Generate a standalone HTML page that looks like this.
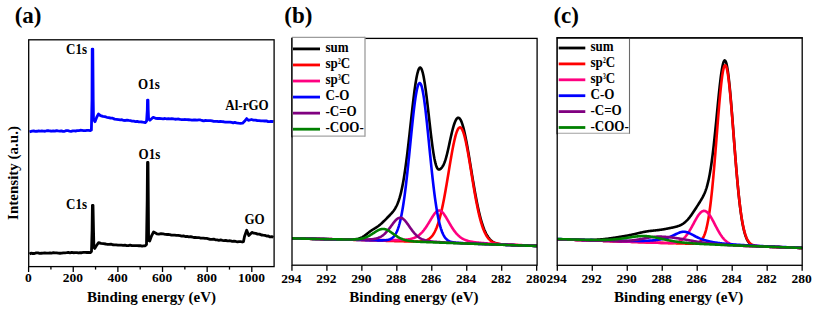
<!DOCTYPE html><html><head><meta charset="utf-8"><style>
html,body{margin:0;padding:0;background:#fff;width:818px;height:318px;overflow:hidden}
svg{display:block}
text{font-family:'Liberation Serif',serif;font-weight:bold;fill:#000}
</style></head><body>
<svg width="818" height="318" viewBox="0 0 818 318">

<polyline points="29.50,131.80 32.00,131.10 33.64,130.83 35.27,131.33 36.91,131.26 38.55,130.89 40.18,131.05 41.82,131.01 43.45,131.14 45.09,131.23 46.73,130.73 48.36,130.68 50.00,131.00 51.62,131.24 53.25,130.95 54.88,131.18 56.50,130.65 58.12,130.96 59.75,131.16 61.38,130.81 63.00,131.31 64.62,131.28 66.25,130.67 67.88,130.67 69.50,131.03 71.12,131.31 72.75,130.92 74.38,130.80 76.00,131.00 77.00,130.60 78.66,130.55 80.33,130.27 81.99,130.41 83.65,130.56 85.31,130.60 86.97,130.41 88.64,130.41 90.30,130.60 91.40,130.00 92.00,100.00 92.20,49.10 92.80,49.10 93.20,100.00 93.50,119.50 95.00,121.70 96.80,117.00 98.50,114.00 100.50,115.60 102.90,116.40 104.85,116.65 106.80,117.27 108.75,117.60 110.70,118.20 112.67,118.22 114.65,119.14 116.62,119.29 118.60,119.60 120.29,119.86 121.97,119.69 123.66,120.42 125.34,120.48 127.03,120.12 128.71,120.43 130.40,120.70 132.09,121.04 133.77,121.22 135.46,121.56 137.14,121.39 138.83,121.86 140.51,121.93 142.20,122.00 145.30,122.60 146.60,121.00 147.30,110.00 147.50,100.10 148.00,100.10 148.20,110.00 148.60,119.00 149.90,120.30 153.20,117.30 155.50,118.30 157.60,118.50 159.45,118.36 161.30,118.56 163.15,118.77 165.00,118.50 166.69,118.83 168.38,118.69 170.08,118.84 171.77,118.54 173.46,118.78 175.15,119.26 176.85,119.09 178.54,119.01 180.23,119.36 181.92,119.57 183.62,119.64 185.31,119.52 187.00,119.70 188.67,119.73 190.35,119.85 192.02,120.11 193.69,120.01 195.36,119.99 197.04,120.13 198.71,119.88 200.38,119.96 202.05,120.50 203.73,120.77 205.40,120.50 207.06,120.68 208.72,120.65 210.38,120.60 212.04,120.94 213.70,121.39 215.36,121.35 217.02,121.30 218.68,121.63 220.34,121.30 222.00,121.60 223.60,121.74 225.20,122.18 226.80,122.05 228.40,122.10 230.00,122.11 231.60,122.43 233.20,122.85 234.80,122.32 236.40,122.80 238.47,123.13 240.53,123.29 242.60,123.20 244.50,121.30 246.70,118.60 248.40,120.40 251.50,119.50 253.40,120.03 255.30,120.19 257.20,120.50 259.10,120.55 261.00,120.80 262.79,120.97 264.57,121.01 266.36,120.88 268.14,121.57 269.93,121.49 271.71,121.36 273.50,121.70" fill="none" stroke="#0000ff" stroke-width="2.8" stroke-linejoin="round"/>
<polyline points="29.50,254.00 31.00,253.20 32.73,253.50 34.45,253.48 36.18,252.84 37.91,252.84 39.64,253.34 41.36,253.26 43.09,253.19 44.82,252.92 46.55,253.11 48.27,253.09 50.00,253.00 51.67,253.04 53.33,252.73 55.00,252.90 56.67,252.86 58.33,253.07 60.00,253.25 61.67,253.20 63.33,252.90 65.00,252.81 66.67,252.67 68.33,252.49 70.00,252.80 71.69,252.45 73.38,252.74 75.08,252.62 76.77,252.65 78.46,252.99 80.15,252.72 81.84,252.73 83.53,252.48 85.22,252.32 86.92,252.51 88.61,252.36 90.30,252.60 91.50,251.50 92.10,230.00 92.40,205.40 93.00,205.40 93.50,230.00 93.90,247.50 94.70,248.50 96.50,245.50 98.60,242.60 101.00,243.40 103.35,243.71 105.70,244.00 107.44,244.47 109.19,244.37 110.93,244.14 112.68,244.76 114.42,244.82 116.17,244.90 117.91,245.14 119.66,245.16 121.40,245.10 123.16,245.37 124.91,245.13 126.67,245.64 128.42,245.69 130.18,245.20 131.93,245.68 133.69,245.72 135.44,245.61 137.20,245.70 138.80,245.74 140.40,245.73 142.00,246.06 143.60,245.78 145.20,245.80 146.50,244.50 147.20,200.00 147.50,162.40 148.00,162.40 148.30,200.00 148.60,240.50 149.70,241.00 151.50,236.00 153.60,231.90 156.80,233.80 158.90,234.03 161.00,233.70 163.10,233.80 164.76,234.27 166.43,234.48 168.09,234.37 169.75,234.65 171.41,235.09 173.07,235.16 174.74,235.19 176.40,235.40 178.16,235.38 179.91,235.63 181.67,236.07 183.42,235.88 185.18,236.57 186.93,236.30 188.69,236.93 190.44,236.69 192.20,237.00 193.80,237.50 195.40,237.49 197.00,237.53 198.60,237.71 200.20,237.98 201.80,238.11 203.40,238.09 205.00,238.40 206.74,238.40 208.48,238.81 210.22,239.30 211.96,239.29 213.70,239.10 215.44,239.82 217.18,239.96 218.92,240.29 220.66,239.98 222.40,240.40 224.06,240.70 225.72,240.36 227.38,240.91 229.03,240.77 230.69,240.88 232.35,241.46 234.01,241.06 235.67,241.48 237.33,241.85 238.98,241.55 240.64,241.66 242.30,242.00 243.50,241.60 244.50,236.50 246.70,230.20 248.80,235.50 251.90,232.40 253.80,233.19 255.70,233.39 257.60,234.11 259.50,234.15 261.40,235.00 263.13,235.22 264.86,235.40 266.59,236.06 268.31,235.97 270.04,236.89 271.77,236.55 273.50,237.20" fill="none" stroke="#000" stroke-width="2.8" stroke-linejoin="round"/>
<rect x="28.7" y="39.8" width="245.40000000000003" height="226.8" fill="none" stroke="#000" stroke-width="1.3"/>
<line x1="28.60" y1="266.6" x2="28.60" y2="272.0" stroke="#000" stroke-width="1.3"/>
<text x="28.30" y="281.8" font-size="13.5" text-anchor="middle">0</text>
<line x1="50.92" y1="266.6" x2="50.92" y2="269.6" stroke="#000" stroke-width="1.3"/>
<line x1="73.24" y1="266.6" x2="73.24" y2="272.0" stroke="#000" stroke-width="1.3"/>
<text x="72.94" y="281.8" font-size="13.5" text-anchor="middle">200</text>
<line x1="95.56" y1="266.6" x2="95.56" y2="269.6" stroke="#000" stroke-width="1.3"/>
<line x1="117.88" y1="266.6" x2="117.88" y2="272.0" stroke="#000" stroke-width="1.3"/>
<text x="117.58" y="281.8" font-size="13.5" text-anchor="middle">400</text>
<line x1="140.20" y1="266.6" x2="140.20" y2="269.6" stroke="#000" stroke-width="1.3"/>
<line x1="162.52" y1="266.6" x2="162.52" y2="272.0" stroke="#000" stroke-width="1.3"/>
<text x="162.22" y="281.8" font-size="13.5" text-anchor="middle">600</text>
<line x1="184.84" y1="266.6" x2="184.84" y2="269.6" stroke="#000" stroke-width="1.3"/>
<line x1="207.16" y1="266.6" x2="207.16" y2="272.0" stroke="#000" stroke-width="1.3"/>
<text x="206.86" y="281.8" font-size="13.5" text-anchor="middle">800</text>
<line x1="229.48" y1="266.6" x2="229.48" y2="269.6" stroke="#000" stroke-width="1.3"/>
<line x1="251.80" y1="266.6" x2="251.80" y2="272.0" stroke="#000" stroke-width="1.3"/>
<text x="251.50" y="281.8" font-size="13.5" text-anchor="middle">1000</text>
<text x="151.5" y="302" font-size="15" text-anchor="middle">Binding energy (eV)</text>
<text transform="translate(18.1,173) rotate(-90)" font-size="15" text-anchor="middle">Intensity (a.u.)</text>
<text x="28.1" y="22.7" font-size="23" text-anchor="middle">(a)</text>
<text transform="translate(76.50,54.10) scale(1.0,1.05)" font-size="13" text-anchor="middle">C1s</text>
<text transform="translate(148.90,88.50) scale(1.0,1.05)" font-size="13" text-anchor="middle">O1s</text>
<text transform="translate(247.00,109.60) scale(1.0,1.05)" font-size="13" text-anchor="middle">Al-rGO</text>
<text transform="translate(76.50,208.60) scale(1.0,1.05)" font-size="13" text-anchor="middle">C1s</text>
<text transform="translate(149.40,158.70) scale(1.0,1.05)" font-size="13" text-anchor="middle">O1s</text>
<text transform="translate(254.60,223.50) scale(1.0,1.05)" font-size="13" text-anchor="middle">GO</text>
<polyline points="292.00,238.40 292.50,238.41 293.00,238.42 293.50,238.44 294.00,238.45 294.50,238.46 295.00,238.47 295.50,238.48 296.00,238.50 296.50,238.51 297.00,238.52 297.50,238.53 298.00,238.55 298.50,238.56 299.00,238.57 299.50,238.58 300.00,238.59 300.50,238.61 301.00,238.62 301.50,238.63 302.00,238.64 302.50,238.65 303.00,238.67 303.50,238.68 304.00,238.69 304.50,238.70 305.00,238.71 305.50,238.73 306.00,238.74 306.50,238.75 307.00,238.76 307.50,238.77 308.00,238.79 308.50,238.80 309.00,238.81 309.50,238.82 310.00,238.84 310.50,238.85 311.00,238.86 311.50,238.87 312.00,238.88 312.50,238.90 313.00,238.91 313.50,238.92 314.00,238.93 314.50,238.94 315.00,238.96 315.50,238.97 316.00,238.98 316.50,238.99 317.00,239.00 317.50,239.02 318.00,239.03 318.50,239.04 319.00,239.05 319.50,239.07 320.00,239.08 320.50,239.09 321.00,239.10 321.50,239.11 322.00,239.13 322.50,239.14 323.00,239.15 323.50,239.16 324.00,239.17 324.50,239.19 325.00,239.20 325.50,239.21 326.00,239.22 326.50,239.23 327.00,239.25 327.50,239.26 328.00,239.27 328.50,239.28 329.00,239.29 329.50,239.31 330.00,239.32 330.50,239.33 331.00,239.34 331.50,239.35 332.00,239.37 332.50,239.38 333.00,239.39 333.50,239.40 334.00,239.41 334.50,239.42 335.00,239.43 335.50,239.45 336.00,239.46 336.50,239.47 337.00,239.48 337.50,239.49 338.00,239.50 338.50,239.51 339.00,239.52 339.50,239.53 340.00,239.54 340.50,239.55 341.00,239.56 341.50,239.57 342.00,239.58 342.50,239.58 343.00,239.59 343.50,239.60 344.00,239.60 344.50,239.61 345.00,239.61 345.50,239.61 346.00,239.62 346.50,239.62 347.00,239.62 347.50,239.62 348.00,239.61 348.50,239.61 349.00,239.60 349.50,239.59 350.00,239.58 350.50,239.57 351.00,239.55 351.50,239.54 352.00,239.51 352.50,239.49 353.00,239.46 353.50,239.42 354.00,239.38 354.50,239.33 355.00,239.28 355.50,239.23 356.00,239.16 356.50,239.08 357.00,239.00 357.50,238.90 358.00,238.79 358.50,238.66 359.00,238.52 359.50,238.36 360.00,238.19 360.50,237.99 361.00,237.78 361.50,237.55 362.00,237.30 362.50,237.02 363.00,236.73 363.50,236.42 364.00,236.10 364.50,235.75 365.00,235.39 365.50,235.02 366.00,234.64 366.50,234.25 367.00,233.86 367.50,233.46 368.00,233.06 368.50,232.66 369.00,232.27 369.50,231.89 370.00,231.52 370.50,231.15 371.00,230.80 371.50,230.45 372.00,230.12 372.50,229.79 373.00,229.47 373.50,229.16 374.00,228.86 374.50,228.55 375.00,228.25 375.50,227.94 376.00,227.63 376.50,227.31 377.00,226.98 377.50,226.64 378.00,226.29 378.50,225.92 379.00,225.54 379.50,225.15 380.00,224.74 380.50,224.32 381.00,223.88 381.50,223.43 382.00,222.97 382.50,222.50 383.00,222.03 383.50,221.54 384.00,221.05 384.50,220.55 385.00,220.05 385.50,219.55 386.00,219.05 386.50,218.54 387.00,218.04 387.50,217.54 388.00,217.03 388.50,216.52 389.00,216.02 389.50,215.50 390.00,214.98 390.50,214.46 391.00,213.92 391.50,213.36 392.00,212.79 392.50,212.20 393.00,211.58 393.50,210.93 394.00,210.24 394.50,209.51 395.00,208.73 395.50,207.89 396.00,206.98 396.50,206.00 397.00,204.94 397.50,203.79 398.00,202.55 398.50,201.20 399.00,199.73 399.50,198.15 400.00,196.43 400.50,194.57 401.00,192.57 401.50,190.41 402.00,188.10 402.50,185.62 403.00,182.98 403.50,180.16 404.00,177.18 404.50,174.02 405.00,170.70 405.50,167.20 406.00,163.55 406.50,159.74 407.00,155.79 407.50,151.70 408.00,147.49 408.50,143.17 409.00,138.77 409.50,134.29 410.00,129.76 410.50,125.20 411.00,120.64 411.50,116.10 412.00,111.60 412.50,107.18 413.00,102.86 413.50,98.67 414.00,94.64 414.50,90.79 415.00,87.16 415.50,83.76 416.00,80.63 416.50,77.79 417.00,75.26 417.50,73.07 418.00,71.22 418.50,69.73 419.00,68.63 419.50,67.90 420.00,67.57 420.50,67.64 421.00,68.10 421.50,68.95 422.00,70.19 422.50,71.80 423.00,73.77 423.50,76.09 424.00,78.73 424.50,81.68 425.00,84.91 425.50,88.39 426.00,92.11 426.50,96.02 427.00,100.09 427.50,104.30 428.00,108.62 428.50,113.00 429.00,117.43 429.50,121.85 430.00,126.24 430.50,130.57 431.00,134.80 431.50,138.90 432.00,142.84 432.50,146.58 433.00,150.10 433.50,153.36 434.00,156.35 434.50,159.05 435.00,161.43 435.50,163.48 436.00,165.22 436.50,166.63 437.00,167.73 437.50,168.54 438.00,169.09 438.50,169.40 439.00,169.51 439.50,169.44 440.00,169.24 440.50,168.91 441.00,168.48 441.50,167.95 442.00,167.34 442.50,166.62 443.00,165.80 443.50,164.86 444.00,163.79 444.50,162.57 445.00,161.21 445.50,159.68 446.00,158.00 446.50,156.18 447.00,154.23 447.50,152.15 448.00,149.99 448.50,147.75 449.00,145.46 449.50,143.15 450.00,140.84 450.50,138.55 451.00,136.30 451.50,134.12 452.00,132.02 452.50,130.01 453.00,128.12 453.50,126.36 454.00,124.73 454.50,123.26 455.00,121.94 455.50,120.79 456.00,119.82 456.50,119.03 457.00,118.43 457.50,118.02 458.00,117.80 458.50,117.78 459.00,117.96 459.50,118.34 460.00,118.91 460.50,119.68 461.00,120.64 461.50,121.78 462.00,123.11 462.50,124.61 463.00,126.29 463.50,128.12 464.00,130.11 464.50,132.24 465.00,134.51 465.50,136.91 466.00,139.42 466.50,142.03 467.00,144.74 467.50,147.53 468.00,150.40 468.50,153.32 469.00,156.30 469.50,159.31 470.00,162.35 470.50,165.41 471.00,168.48 471.50,171.54 472.00,174.59 472.50,177.62 473.00,180.63 473.50,183.59 474.00,186.51 474.50,189.37 475.00,192.18 475.50,194.93 476.00,197.60 476.50,200.20 477.00,202.72 477.50,205.17 478.00,207.52 478.50,209.79 479.00,211.98 479.50,214.07 480.00,216.08 480.50,217.99 481.00,219.82 481.50,221.55 482.00,223.20 482.50,224.76 483.00,226.24 483.50,227.63 484.00,228.94 484.50,230.18 485.00,231.33 485.50,232.42 486.00,233.43 486.50,234.37 487.00,235.25 487.50,236.07 488.00,236.83 488.50,237.53 489.00,238.18 489.50,238.78 490.00,239.34 490.50,239.85 491.00,240.31 491.50,240.74 492.00,241.14 492.50,241.50 493.00,241.83 493.50,242.13 494.00,242.40 494.50,242.65 495.00,242.88 495.50,243.08 496.00,243.27 496.50,243.44 497.00,243.59 497.50,243.73 498.00,243.86 498.50,243.97 499.00,244.07 499.50,244.17 500.00,244.25 500.50,244.33 501.00,244.40 501.50,244.47 502.00,244.52 502.50,244.58 503.00,244.63 503.50,244.67 504.00,244.71 504.50,244.75 505.00,244.79 505.50,244.82 506.00,244.85 506.50,244.88 507.00,244.91 507.50,244.94 508.00,244.96 508.50,244.98 509.00,245.01 509.50,245.03 510.00,245.05 510.50,245.07 511.00,245.09 511.50,245.11 512.00,245.13 512.50,245.15 513.00,245.17 513.50,245.19 514.00,245.20 514.50,245.22 515.00,245.24 515.50,245.26 516.00,245.27 516.50,245.29 517.00,245.31 517.50,245.33 518.00,245.34 518.50,245.36 519.00,245.38 519.50,245.40 520.00,245.41 520.50,245.43 521.00,245.45 521.50,245.46 522.00,245.48 522.50,245.50 523.00,245.51 523.50,245.53 524.00,245.55 524.50,245.57 525.00,245.58 525.50,245.60 526.00,245.62 526.50,245.63 527.00,245.65 527.50,245.67 528.00,245.68 528.50,245.70 529.00,245.72 529.50,245.74 530.00,245.75 530.50,245.77 531.00,245.79 531.50,245.80 532.00,245.82 532.50,245.84 533.00,245.85 533.50,245.87 534.00,245.89 534.50,245.91 535.00,245.92 535.50,245.94 536.00,245.96 536.50,245.97 537.00,245.99" fill="none" stroke="#000" stroke-width="2.6" stroke-linejoin="round"/>
<polyline points="292.00,238.38 292.50,238.39 293.00,238.40 293.50,238.41 294.00,238.43 294.50,238.44 295.00,238.45 295.50,238.46 296.00,238.47 296.50,238.49 297.00,238.50 297.50,238.51 298.00,238.52 298.50,238.53 299.00,238.55 299.50,238.56 300.00,238.57 300.50,238.58 301.00,238.59 301.50,238.60 302.00,238.62 302.50,238.63 303.00,238.64 303.50,238.65 304.00,238.66 304.50,238.68 305.00,238.69 305.50,238.70 306.00,238.71 306.50,238.72 307.00,238.74 307.50,238.75 308.00,238.76 308.50,238.77 309.00,238.78 309.50,238.80 310.00,238.81 310.50,238.82 311.00,238.83 311.50,238.84 312.00,238.86 312.50,238.87 313.00,238.88 313.50,238.89 314.00,238.90 314.50,238.91 315.00,238.93 315.50,238.94 316.00,238.95 316.50,238.96 317.00,238.97 317.50,238.99 318.00,239.00 318.50,239.01 319.00,239.02 319.50,239.03 320.00,239.05 320.50,239.06 321.00,239.07 321.50,239.08 322.00,239.09 322.50,239.10 323.00,239.12 323.50,239.13 324.00,239.14 324.50,239.15 325.00,239.16 325.50,239.18 326.00,239.19 326.50,239.20 327.00,239.21 327.50,239.22 328.00,239.23 328.50,239.25 329.00,239.26 329.50,239.27 330.00,239.28 330.50,239.29 331.00,239.31 331.50,239.32 332.00,239.33 332.50,239.34 333.00,239.35 333.50,239.36 334.00,239.38 334.50,239.39 335.00,239.40 335.50,239.41 336.00,239.42 336.50,239.44 337.00,239.45 337.50,239.46 338.00,239.47 338.50,239.48 339.00,239.49 339.50,239.51 340.00,239.52 340.50,239.53 341.00,239.54 341.50,239.55 342.00,239.56 342.50,239.58 343.00,239.59 343.50,239.60 344.00,239.61 344.50,239.62 345.00,239.63 345.50,239.65 346.00,239.66 346.50,239.67 347.00,239.68 347.50,239.69 348.00,239.71 348.50,239.72 349.00,239.73 349.50,239.74 350.00,239.75 350.50,239.76 351.00,239.77 351.50,239.79 352.00,239.80 352.50,239.81 353.00,239.82 353.50,239.83 354.00,239.84 354.50,239.86 355.00,239.88 355.50,239.89 356.00,239.91 356.50,239.92 357.00,239.94 357.50,239.95 358.00,239.97 358.50,239.99 359.00,240.00 359.50,240.02 360.00,240.03 360.50,240.05 361.00,240.06 361.50,240.08 362.00,240.10 362.50,240.11 363.00,240.13 363.50,240.14 364.00,240.16 364.50,240.17 365.00,240.19 365.50,240.20 366.00,240.22 366.50,240.24 367.00,240.25 367.50,240.27 368.00,240.28 368.50,240.30 369.00,240.31 369.50,240.33 370.00,240.34 370.50,240.36 371.00,240.38 371.50,240.39 372.00,240.41 372.50,240.42 373.00,240.44 373.50,240.45 374.00,240.47 374.50,240.48 375.00,240.50 375.50,240.51 376.00,240.53 376.50,240.54 377.00,240.56 377.50,240.57 378.00,240.59 378.50,240.60 379.00,240.62 379.50,240.64 380.00,240.65 380.50,240.67 381.00,240.68 381.50,240.70 382.00,240.71 382.50,240.73 383.00,240.74 383.50,240.76 384.00,240.77 384.50,240.79 385.00,240.80 385.50,240.81 386.00,240.83 386.50,240.84 387.00,240.86 387.50,240.87 388.00,240.89 388.50,240.90 389.00,240.92 389.50,240.93 390.00,240.95 390.50,240.96 391.00,240.98 391.50,240.99 392.00,241.01 392.50,241.02 393.00,241.03 393.50,241.05 394.00,241.06 394.50,241.08 395.00,241.09 395.50,241.11 396.00,241.12 396.50,241.13 397.00,241.15 397.50,241.16 398.00,241.17 398.50,241.19 399.00,241.20 399.50,241.22 400.00,241.23 400.50,241.24 401.00,241.26 401.50,241.27 402.00,241.28 402.50,241.30 403.00,241.31 403.50,241.32 404.00,241.34 404.50,241.35 405.00,241.36 405.50,241.37 406.00,241.39 406.50,241.40 407.00,241.41 407.50,241.42 408.00,241.43 408.50,241.45 409.00,241.46 409.50,241.47 410.00,241.48 410.50,241.49 411.00,241.50 411.50,241.51 412.00,241.52 412.50,241.52 413.00,241.53 413.50,241.54 414.00,241.54 414.50,241.55 415.00,241.55 415.50,241.55 416.00,241.55 416.50,241.54 417.00,241.54 417.50,241.53 418.00,241.52 418.50,241.51 419.00,241.49 419.50,241.46 420.00,241.44 420.50,241.40 421.00,241.36 421.50,241.32 422.00,241.26 422.50,241.20 423.00,241.12 423.50,241.03 424.00,240.94 424.50,240.82 425.00,240.69 425.50,240.55 426.00,240.38 426.50,240.20 427.00,239.99 427.50,239.76 428.00,239.49 428.50,239.20 429.00,238.88 429.50,238.52 430.00,238.12 430.50,237.68 431.00,237.19 431.50,236.66 432.00,236.08 432.50,235.44 433.00,234.74 433.50,233.99 434.00,233.16 434.50,232.27 435.00,231.31 435.50,230.27 436.00,229.15 436.50,227.95 437.00,226.66 437.50,225.29 438.00,223.83 438.50,222.27 439.00,220.62 439.50,218.88 440.00,217.03 440.50,215.09 441.00,213.06 441.50,210.93 442.00,208.70 442.50,206.38 443.00,203.97 443.50,201.47 444.00,198.89 444.50,196.23 445.00,193.49 445.50,190.69 446.00,187.83 446.50,184.92 447.00,181.96 447.50,178.97 448.00,175.96 448.50,172.93 449.00,169.90 449.50,166.87 450.00,163.87 450.50,160.90 451.00,157.98 451.50,155.11 452.00,152.32 452.50,149.62 453.00,147.01 453.50,144.52 454.00,142.15 454.50,139.92 455.00,137.83 455.50,135.91 456.00,134.17 456.50,132.60 457.00,131.23 457.50,130.05 458.00,129.08 458.50,128.33 459.00,127.79 459.50,127.47 460.00,127.38 460.50,127.51 461.00,127.86 461.50,128.43 462.00,129.22 462.50,130.22 463.00,131.43 463.50,132.84 464.00,134.44 464.50,136.22 465.00,138.17 465.50,140.29 466.00,142.55 466.50,144.96 467.00,147.48 467.50,150.12 468.00,152.86 468.50,155.69 469.00,158.59 469.50,161.54 470.00,164.55 470.50,167.58 471.00,170.64 471.50,173.71 472.00,176.77 472.50,179.82 473.00,182.85 473.50,185.84 474.00,188.78 474.50,191.68 475.00,194.51 475.50,197.28 476.00,199.97 476.50,202.59 477.00,205.12 477.50,207.57 478.00,209.92 478.50,212.18 479.00,214.35 479.50,216.42 480.00,218.39 480.50,220.26 481.00,222.04 481.50,223.73 482.00,225.32 482.50,226.81 483.00,228.22 483.50,229.54 484.00,230.77 484.50,231.92 485.00,233.00 485.50,233.99 486.00,234.92 486.50,235.77 487.00,236.57 487.50,237.29 488.00,237.97 488.50,238.58 489.00,239.15 489.50,239.67 490.00,240.14 490.50,240.57 491.00,240.96 491.50,241.32 492.00,241.65 492.50,241.94 493.00,242.21 493.50,242.45 494.00,242.67 494.50,242.87 495.00,243.05 495.50,243.21 496.00,243.36 496.50,243.49 497.00,243.61 497.50,243.72 498.00,243.81 498.50,243.90 499.00,243.98 499.50,244.06 500.00,244.12 500.50,244.18 501.00,244.24 501.50,244.29 502.00,244.34 502.50,244.38 503.00,244.43 503.50,244.46 504.00,244.50 504.50,244.53 505.00,244.57 505.50,244.60 506.00,244.63 506.50,244.65 507.00,244.68 507.50,244.71 508.00,244.73 508.50,244.76 509.00,244.78 509.50,244.81 510.00,244.83 510.50,244.85 511.00,244.87 511.50,244.90 512.00,244.92 512.50,244.94 513.00,244.96 513.50,244.98 514.00,245.00 514.50,245.02 515.00,245.04 515.50,245.07 516.00,245.09 516.50,245.11 517.00,245.13 517.50,245.15 518.00,245.17 518.50,245.19 519.00,245.21 519.50,245.23 520.00,245.25 520.50,245.27 521.00,245.28 521.50,245.30 522.00,245.32 522.50,245.34 523.00,245.36 523.50,245.38 524.00,245.40 524.50,245.42 525.00,245.44 525.50,245.46 526.00,245.48 526.50,245.50 527.00,245.51 527.50,245.53 528.00,245.55 528.50,245.57 529.00,245.59 529.50,245.61 530.00,245.63 530.50,245.65 531.00,245.66 531.50,245.68 532.00,245.70 532.50,245.72 533.00,245.74 533.50,245.76 534.00,245.78 534.50,245.79 535.00,245.81 535.50,245.83 536.00,245.85 536.50,245.87 537.00,245.89" fill="none" stroke="#ff0000" stroke-width="2.6" stroke-linejoin="round"/>
<polyline points="292.00,238.30 292.50,238.31 293.00,238.32 293.50,238.33 294.00,238.34 294.50,238.35 295.00,238.36 295.50,238.38 296.00,238.39 296.50,238.40 297.00,238.41 297.50,238.42 298.00,238.43 298.50,238.44 299.00,238.46 299.50,238.47 300.00,238.48 300.50,238.49 301.00,238.50 301.50,238.51 302.00,238.52 302.50,238.53 303.00,238.55 303.50,238.56 304.00,238.57 304.50,238.58 305.00,238.59 305.50,238.60 306.00,238.61 306.50,238.62 307.00,238.63 307.50,238.65 308.00,238.66 308.50,238.67 309.00,238.68 309.50,238.69 310.00,238.70 310.50,238.71 311.00,238.72 311.50,238.73 312.00,238.75 312.50,238.76 313.00,238.77 313.50,238.78 314.00,238.79 314.50,238.80 315.00,238.81 315.50,238.82 316.00,238.83 316.50,238.84 317.00,238.85 317.50,238.87 318.00,238.88 318.50,238.89 319.00,238.90 319.50,238.91 320.00,238.92 320.50,238.93 321.00,238.94 321.50,238.95 322.00,238.96 322.50,238.97 323.00,238.98 323.50,238.99 324.00,239.01 324.50,239.02 325.00,239.03 325.50,239.04 326.00,239.05 326.50,239.06 327.00,239.07 327.50,239.08 328.00,239.09 328.50,239.10 329.00,239.11 329.50,239.12 330.00,239.13 330.50,239.14 331.00,239.15 331.50,239.16 332.00,239.17 332.50,239.18 333.00,239.19 333.50,239.20 334.00,239.21 334.50,239.22 335.00,239.23 335.50,239.24 336.00,239.26 336.50,239.27 337.00,239.28 337.50,239.29 338.00,239.30 338.50,239.31 339.00,239.32 339.50,239.32 340.00,239.33 340.50,239.34 341.00,239.35 341.50,239.36 342.00,239.37 342.50,239.38 343.00,239.39 343.50,239.40 344.00,239.41 344.50,239.42 345.00,239.43 345.50,239.44 346.00,239.45 346.50,239.46 347.00,239.47 347.50,239.48 348.00,239.49 348.50,239.50 349.00,239.51 349.50,239.52 350.00,239.52 350.50,239.53 351.00,239.54 351.50,239.55 352.00,239.56 352.50,239.57 353.00,239.58 353.50,239.59 354.00,239.59 354.50,239.61 355.00,239.62 355.50,239.63 356.00,239.65 356.50,239.66 357.00,239.67 357.50,239.68 358.00,239.69 358.50,239.71 359.00,239.72 359.50,239.73 360.00,239.74 360.50,239.76 361.00,239.77 361.50,239.78 362.00,239.79 362.50,239.80 363.00,239.81 363.50,239.82 364.00,239.84 364.50,239.85 365.00,239.86 365.50,239.87 366.00,239.88 366.50,239.89 367.00,239.90 367.50,239.91 368.00,239.92 368.50,239.93 369.00,239.94 369.50,239.95 370.00,239.96 370.50,239.97 371.00,239.98 371.50,239.99 372.00,240.00 372.50,240.01 373.00,240.02 373.50,240.03 374.00,240.04 374.50,240.05 375.00,240.05 375.50,240.06 376.00,240.07 376.50,240.08 377.00,240.09 377.50,240.09 378.00,240.10 378.50,240.11 379.00,240.12 379.50,240.12 380.00,240.13 380.50,240.13 381.00,240.14 381.50,240.15 382.00,240.15 382.50,240.16 383.00,240.16 383.50,240.17 384.00,240.17 384.50,240.17 385.00,240.18 385.50,240.18 386.00,240.18 386.50,240.19 387.00,240.19 387.50,240.19 388.00,240.19 388.50,240.19 389.00,240.19 389.50,240.19 390.00,240.19 390.50,240.19 391.00,240.19 391.50,240.19 392.00,240.19 392.50,240.18 393.00,240.18 393.50,240.18 394.00,240.17 394.50,240.17 395.00,240.16 395.50,240.15 396.00,240.14 396.50,240.13 397.00,240.12 397.50,240.11 398.00,240.10 398.50,240.09 399.00,240.07 399.50,240.06 400.00,240.04 400.50,240.02 401.00,240.00 401.50,239.98 402.00,239.95 402.50,239.93 403.00,239.90 403.50,239.87 404.00,239.83 404.50,239.80 405.00,239.75 405.50,239.71 406.00,239.66 406.50,239.61 407.00,239.55 407.50,239.49 408.00,239.42 408.50,239.34 409.00,239.26 409.50,239.17 410.00,239.08 410.50,238.97 411.00,238.86 411.50,238.73 412.00,238.60 412.50,238.45 413.00,238.29 413.50,238.12 414.00,237.93 414.50,237.73 415.00,237.52 415.50,237.28 416.00,237.03 416.50,236.76 417.00,236.47 417.50,236.16 418.00,235.83 418.50,235.48 419.00,235.11 419.50,234.71 420.00,234.28 420.50,233.84 421.00,233.36 421.50,232.86 422.00,232.34 422.50,231.79 423.00,231.21 423.50,230.61 424.00,229.98 424.50,229.32 425.00,228.65 425.50,227.94 426.00,227.22 426.50,226.47 427.00,225.70 427.50,224.92 428.00,224.12 428.50,223.31 429.00,222.48 429.50,221.65 430.00,220.81 430.50,219.97 431.00,219.13 431.50,218.30 432.00,217.49 432.50,216.69 433.00,215.91 433.50,215.16 434.00,214.44 434.50,213.77 435.00,213.14 435.50,212.56 436.00,212.05 436.50,211.60 437.00,211.21 437.50,210.91 438.00,210.68 438.50,210.53 439.00,210.47 439.50,210.50 440.00,210.61 440.50,210.80 441.00,211.08 441.50,211.44 442.00,211.87 442.50,212.36 443.00,212.93 443.50,213.55 444.00,214.22 444.50,214.94 445.00,215.69 445.50,216.48 446.00,217.30 446.50,218.13 447.00,218.99 447.50,219.85 448.00,220.72 448.50,221.59 449.00,222.46 449.50,223.33 450.00,224.19 450.50,225.03 451.00,225.86 451.50,226.68 452.00,227.47 452.50,228.25 453.00,229.00 453.50,229.73 454.00,230.44 454.50,231.12 455.00,231.78 455.50,232.41 456.00,233.02 456.50,233.59 457.00,234.15 457.50,234.67 458.00,235.18 458.50,235.65 459.00,236.10 459.50,236.53 460.00,236.94 460.50,237.32 461.00,237.68 461.50,238.01 462.00,238.33 462.50,238.63 463.00,238.91 463.50,239.18 464.00,239.42 464.50,239.65 465.00,239.87 465.50,240.07 466.00,240.26 466.50,240.44 467.00,240.60 467.50,240.76 468.00,240.91 468.50,241.04 469.00,241.17 469.50,241.29 470.00,241.40 470.50,241.51 471.00,241.61 471.50,241.71 472.00,241.80 472.50,241.88 473.00,241.96 473.50,242.04 474.00,242.12 474.50,242.19 475.00,242.25 475.50,242.32 476.00,242.38 476.50,242.44 477.00,242.50 477.50,242.55 478.00,242.60 478.50,242.66 479.00,242.71 479.50,242.75 480.00,242.80 480.50,242.85 481.00,242.89 481.50,242.94 482.00,242.98 482.50,243.02 483.00,243.06 483.50,243.10 484.00,243.14 484.50,243.18 485.00,243.22 485.50,243.26 486.00,243.29 486.50,243.33 487.00,243.37 487.50,243.40 488.00,243.44 488.50,243.47 489.00,243.50 489.50,243.54 490.00,243.57 490.50,243.60 491.00,243.63 491.50,243.66 492.00,243.69 492.50,243.73 493.00,243.76 493.50,243.79 494.00,243.81 494.50,243.84 495.00,243.87 495.50,243.90 496.00,243.93 496.50,243.96 497.00,243.99 497.50,244.01 498.00,244.04 498.50,244.07 499.00,244.09 499.50,244.12 500.00,244.15 500.50,244.17 501.00,244.20 501.50,244.23 502.00,244.25 502.50,244.28 503.00,244.30 503.50,244.33 504.00,244.35 504.50,244.38 505.00,244.40 505.50,244.42 506.00,244.45 506.50,244.47 507.00,244.50 507.50,244.52 508.00,244.54 508.50,244.57 509.00,244.59 509.50,244.61 510.00,244.64 510.50,244.66 511.00,244.68 511.50,244.70 512.00,244.73 512.50,244.75 513.00,244.77 513.50,244.79 514.00,244.82 514.50,244.84 515.00,244.86 515.50,244.88 516.00,244.90 516.50,244.93 517.00,244.95 517.50,244.97 518.00,244.99 518.50,245.01 519.00,245.03 519.50,245.05 520.00,245.07 520.50,245.10 521.00,245.12 521.50,245.14 522.00,245.16 522.50,245.18 523.00,245.20 523.50,245.22 524.00,245.24 524.50,245.26 525.00,245.28 525.50,245.30 526.00,245.32 526.50,245.34 527.00,245.36 527.50,245.38 528.00,245.40 528.50,245.42 529.00,245.44 529.50,245.46 530.00,245.48 530.50,245.50 531.00,245.52 531.50,245.54 532.00,245.56 532.50,245.58 533.00,245.60 533.50,245.62 534.00,245.64 534.50,245.66 535.00,245.68 535.50,245.70 536.00,245.72 536.50,245.74 537.00,245.76" fill="none" stroke="#ff0080" stroke-width="2.6" stroke-linejoin="round"/>
<polyline points="292.00,238.36 292.50,238.38 293.00,238.39 293.50,238.40 294.00,238.41 294.50,238.42 295.00,238.43 295.50,238.45 296.00,238.46 296.50,238.47 297.00,238.48 297.50,238.49 298.00,238.50 298.50,238.52 299.00,238.53 299.50,238.54 300.00,238.55 300.50,238.56 301.00,238.58 301.50,238.59 302.00,238.60 302.50,238.61 303.00,238.62 303.50,238.63 304.00,238.65 304.50,238.66 305.00,238.67 305.50,238.68 306.00,238.69 306.50,238.70 307.00,238.72 307.50,238.73 308.00,238.74 308.50,238.75 309.00,238.76 309.50,238.77 310.00,238.79 310.50,238.80 311.00,238.81 311.50,238.82 312.00,238.83 312.50,238.84 313.00,238.86 313.50,238.87 314.00,238.88 314.50,238.89 315.00,238.90 315.50,238.91 316.00,238.93 316.50,238.94 317.00,238.95 317.50,238.96 318.00,238.97 318.50,238.98 319.00,238.99 319.50,239.01 320.00,239.02 320.50,239.03 321.00,239.04 321.50,239.05 322.00,239.06 322.50,239.07 323.00,239.09 323.50,239.10 324.00,239.11 324.50,239.12 325.00,239.13 325.50,239.14 326.00,239.15 326.50,239.17 327.00,239.18 327.50,239.19 328.00,239.20 328.50,239.21 329.00,239.22 329.50,239.23 330.00,239.25 330.50,239.26 331.00,239.27 331.50,239.28 332.00,239.29 332.50,239.30 333.00,239.31 333.50,239.32 334.00,239.34 334.50,239.35 335.00,239.36 335.50,239.37 336.00,239.38 336.50,239.39 337.00,239.40 337.50,239.41 338.00,239.42 338.50,239.44 339.00,239.45 339.50,239.46 340.00,239.47 340.50,239.48 341.00,239.49 341.50,239.50 342.00,239.51 342.50,239.52 343.00,239.53 343.50,239.54 344.00,239.55 344.50,239.57 345.00,239.58 345.50,239.59 346.00,239.60 346.50,239.61 347.00,239.62 347.50,239.63 348.00,239.64 348.50,239.65 349.00,239.66 349.50,239.67 350.00,239.68 350.50,239.69 351.00,239.70 351.50,239.71 352.00,239.72 352.50,239.73 353.00,239.74 353.50,239.75 354.00,239.76 354.50,239.78 355.00,239.79 355.50,239.81 356.00,239.82 356.50,239.83 357.00,239.85 357.50,239.86 358.00,239.88 358.50,239.89 359.00,239.90 359.50,239.92 360.00,239.93 360.50,239.95 361.00,239.96 361.50,239.97 362.00,239.99 362.50,240.00 363.00,240.01 363.50,240.03 364.00,240.04 364.50,240.05 365.00,240.06 365.50,240.08 366.00,240.09 366.50,240.10 367.00,240.12 367.50,240.13 368.00,240.14 368.50,240.15 369.00,240.16 369.50,240.18 370.00,240.19 370.50,240.20 371.00,240.21 371.50,240.22 372.00,240.23 372.50,240.25 373.00,240.26 373.50,240.27 374.00,240.28 374.50,240.29 375.00,240.30 375.50,240.31 376.00,240.32 376.50,240.32 377.00,240.33 377.50,240.34 378.00,240.35 378.50,240.35 379.00,240.36 379.50,240.36 380.00,240.36 380.50,240.37 381.00,240.37 381.50,240.36 382.00,240.36 382.50,240.35 383.00,240.34 383.50,240.32 384.00,240.30 384.50,240.28 385.00,240.24 385.50,240.21 386.00,240.16 386.50,240.10 387.00,240.03 387.50,239.94 388.00,239.85 388.50,239.73 389.00,239.59 389.50,239.43 390.00,239.24 390.50,239.03 391.00,238.77 391.50,238.49 392.00,238.15 392.50,237.77 393.00,237.34 393.50,236.85 394.00,236.29 394.50,235.66 395.00,234.96 395.50,234.16 396.00,233.27 396.50,232.28 397.00,231.19 397.50,229.97 398.00,228.62 398.50,227.14 399.00,225.52 399.50,223.75 400.00,221.81 400.50,219.71 401.00,217.44 401.50,214.99 402.00,212.36 402.50,209.53 403.00,206.52 403.50,203.32 404.00,199.92 404.50,196.34 405.00,192.57 405.50,188.62 406.00,184.50 406.50,180.21 407.00,175.77 407.50,171.19 408.00,166.49 408.50,161.69 409.00,156.80 409.50,151.85 410.00,146.86 410.50,141.86 411.00,136.88 411.50,131.94 412.00,127.07 412.50,122.31 413.00,117.69 413.50,113.23 414.00,108.97 414.50,104.94 415.00,101.17 415.50,97.69 416.00,94.52 416.50,91.70 417.00,89.25 417.50,87.18 418.00,85.51 418.50,84.27 419.00,83.45 419.50,83.07 420.00,83.13 420.50,83.63 421.00,84.57 421.50,85.93 422.00,87.71 422.50,89.89 423.00,92.45 423.50,95.38 424.00,98.64 424.50,102.21 425.00,106.07 425.50,110.18 426.00,114.51 426.50,119.04 427.00,123.73 427.50,128.55 428.00,133.46 428.50,138.45 429.00,143.47 429.50,148.50 430.00,153.51 430.50,158.49 431.00,163.39 431.50,168.21 432.00,172.92 432.50,177.50 433.00,181.94 433.50,186.23 434.00,190.35 434.50,194.30 435.00,198.07 435.50,201.65 436.00,205.04 436.50,208.23 437.00,211.24 437.50,214.06 438.00,216.69 438.50,219.13 439.00,221.40 439.50,223.50 440.00,225.43 440.50,227.21 441.00,228.84 441.50,230.32 442.00,231.68 442.50,232.90 443.00,234.01 443.50,235.01 444.00,235.92 444.50,236.73 445.00,237.45 445.50,238.10 446.00,238.67 446.50,239.19 447.00,239.64 447.50,240.04 448.00,240.40 448.50,240.71 449.00,240.99 449.50,241.24 450.00,241.45 450.50,241.64 451.00,241.81 451.50,241.95 452.00,242.08 452.50,242.20 453.00,242.30 453.50,242.39 454.00,242.47 454.50,242.54 455.00,242.60 455.50,242.66 456.00,242.71 456.50,242.76 457.00,242.80 457.50,242.84 458.00,242.88 458.50,242.92 459.00,242.95 459.50,242.98 460.00,243.01 460.50,243.04 461.00,243.07 461.50,243.10 462.00,243.12 462.50,243.15 463.00,243.17 463.50,243.20 464.00,243.22 464.50,243.25 465.00,243.27 465.50,243.29 466.00,243.31 466.50,243.34 467.00,243.36 467.50,243.38 468.00,243.40 468.50,243.43 469.00,243.45 469.50,243.47 470.00,243.49 470.50,243.51 471.00,243.53 471.50,243.55 472.00,243.57 472.50,243.60 473.00,243.62 473.50,243.64 474.00,243.66 474.50,243.68 475.00,243.70 475.50,243.72 476.00,243.74 476.50,243.76 477.00,243.78 477.50,243.80 478.00,243.82 478.50,243.84 479.00,243.86 479.50,243.88 480.00,243.90 480.50,243.92 481.00,243.94 481.50,243.95 482.00,243.97 482.50,243.99 483.00,244.01 483.50,244.03 484.00,244.05 484.50,244.07 485.00,244.09 485.50,244.11 486.00,244.13 486.50,244.15 487.00,244.16 487.50,244.18 488.00,244.20 488.50,244.22 489.00,244.24 489.50,244.26 490.00,244.28 490.50,244.30 491.00,244.31 491.50,244.33 492.00,244.35 492.50,244.37 493.00,244.39 493.50,244.41 494.00,244.42 494.50,244.44 495.00,244.46 495.50,244.48 496.00,244.50 496.50,244.52 497.00,244.53 497.50,244.55 498.00,244.57 498.50,244.59 499.00,244.61 499.50,244.63 500.00,244.64 500.50,244.66 501.00,244.68 501.50,244.70 502.00,244.72 502.50,244.73 503.00,244.75 503.50,244.77 504.00,244.79 504.50,244.81 505.00,244.82 505.50,244.84 506.00,244.86 506.50,244.88 507.00,244.89 507.50,244.91 508.00,244.93 508.50,244.95 509.00,244.97 509.50,244.98 510.00,245.00 510.50,245.02 511.00,245.04 511.50,245.05 512.00,245.07 512.50,245.09 513.00,245.11 513.50,245.13 514.00,245.14 514.50,245.16 515.00,245.18 515.50,245.20 516.00,245.21 516.50,245.23 517.00,245.25 517.50,245.27 518.00,245.28 518.50,245.30 519.00,245.32 519.50,245.34 520.00,245.35 520.50,245.37 521.00,245.39 521.50,245.41 522.00,245.42 522.50,245.44 523.00,245.46 523.50,245.48 524.00,245.49 524.50,245.51 525.00,245.53 525.50,245.55 526.00,245.56 526.50,245.58 527.00,245.60 527.50,245.62 528.00,245.63 528.50,245.65 529.00,245.67 529.50,245.69 530.00,245.70 530.50,245.72 531.00,245.74 531.50,245.76 532.00,245.77 532.50,245.79 533.00,245.81 533.50,245.82 534.00,245.84 534.50,245.86 535.00,245.88 535.50,245.89 536.00,245.91 536.50,245.93 537.00,245.95" fill="none" stroke="#0000ff" stroke-width="2.6" stroke-linejoin="round"/>
<polyline points="292.00,238.32 292.50,238.33 293.00,238.34 293.50,238.35 294.00,238.37 294.50,238.38 295.00,238.39 295.50,238.40 296.00,238.41 296.50,238.42 297.00,238.43 297.50,238.45 298.00,238.46 298.50,238.47 299.00,238.48 299.50,238.49 300.00,238.50 300.50,238.51 301.00,238.52 301.50,238.53 302.00,238.55 302.50,238.56 303.00,238.57 303.50,238.58 304.00,238.59 304.50,238.60 305.00,238.61 305.50,238.62 306.00,238.63 306.50,238.65 307.00,238.66 307.50,238.67 308.00,238.68 308.50,238.69 309.00,238.70 309.50,238.71 310.00,238.72 310.50,238.73 311.00,238.74 311.50,238.75 312.00,238.77 312.50,238.78 313.00,238.79 313.50,238.80 314.00,238.81 314.50,238.82 315.00,238.83 315.50,238.84 316.00,238.85 316.50,238.86 317.00,238.87 317.50,238.88 318.00,238.89 318.50,238.90 319.00,238.91 319.50,238.92 320.00,238.93 320.50,238.94 321.00,238.96 321.50,238.97 322.00,238.98 322.50,238.99 323.00,239.00 323.50,239.01 324.00,239.02 324.50,239.03 325.00,239.04 325.50,239.05 326.00,239.06 326.50,239.07 327.00,239.08 327.50,239.09 328.00,239.10 328.50,239.11 329.00,239.11 329.50,239.12 330.00,239.13 330.50,239.14 331.00,239.15 331.50,239.16 332.00,239.17 332.50,239.18 333.00,239.19 333.50,239.20 334.00,239.21 334.50,239.22 335.00,239.23 335.50,239.24 336.00,239.24 336.50,239.25 337.00,239.26 337.50,239.27 338.00,239.28 338.50,239.29 339.00,239.30 339.50,239.30 340.00,239.31 340.50,239.32 341.00,239.33 341.50,239.34 342.00,239.34 342.50,239.35 343.00,239.36 343.50,239.37 344.00,239.37 344.50,239.38 345.00,239.39 345.50,239.39 346.00,239.40 346.50,239.41 347.00,239.41 347.50,239.42 348.00,239.43 348.50,239.43 349.00,239.44 349.50,239.44 350.00,239.45 350.50,239.46 351.00,239.46 351.50,239.47 352.00,239.47 352.50,239.47 353.00,239.48 353.50,239.48 354.00,239.49 354.50,239.49 355.00,239.50 355.50,239.51 356.00,239.52 356.50,239.52 357.00,239.53 357.50,239.53 358.00,239.54 358.50,239.54 359.00,239.55 359.50,239.55 360.00,239.56 360.50,239.56 361.00,239.56 361.50,239.56 362.00,239.56 362.50,239.57 363.00,239.56 363.50,239.56 364.00,239.56 364.50,239.56 365.00,239.55 365.50,239.55 366.00,239.54 366.50,239.53 367.00,239.52 367.50,239.50 368.00,239.49 368.50,239.47 369.00,239.45 369.50,239.42 370.00,239.39 370.50,239.36 371.00,239.32 371.50,239.28 372.00,239.23 372.50,239.17 373.00,239.11 373.50,239.04 374.00,238.97 374.50,238.88 375.00,238.79 375.50,238.68 376.00,238.56 376.50,238.43 377.00,238.29 377.50,238.14 378.00,237.96 378.50,237.78 379.00,237.57 379.50,237.35 380.00,237.11 380.50,236.84 381.00,236.56 381.50,236.26 382.00,235.93 382.50,235.58 383.00,235.21 383.50,234.81 384.00,234.39 384.50,233.95 385.00,233.48 385.50,232.99 386.00,232.47 386.50,231.93 387.00,231.37 387.50,230.79 388.00,230.18 388.50,229.56 389.00,228.93 389.50,228.28 390.00,227.61 390.50,226.94 391.00,226.26 391.50,225.58 392.00,224.90 392.50,224.22 393.00,223.55 393.50,222.90 394.00,222.26 394.50,221.64 395.00,221.05 395.50,220.49 396.00,219.97 396.50,219.49 397.00,219.06 397.50,218.68 398.00,218.36 398.50,218.10 399.00,217.90 399.50,217.77 400.00,217.71 400.50,217.72 401.00,217.80 401.50,217.95 402.00,218.16 402.50,218.45 403.00,218.79 403.50,219.19 404.00,219.64 404.50,220.15 405.00,220.69 405.50,221.28 406.00,221.89 406.50,222.54 407.00,223.21 407.50,223.89 408.00,224.59 408.50,225.30 409.00,226.01 409.50,226.73 410.00,227.44 410.50,228.14 411.00,228.84 411.50,229.53 412.00,230.20 412.50,230.86 413.00,231.49 413.50,232.11 414.00,232.71 414.50,233.29 415.00,233.84 415.50,234.37 416.00,234.88 416.50,235.36 417.00,235.82 417.50,236.25 418.00,236.66 418.50,237.05 419.00,237.41 419.50,237.75 420.00,238.07 420.50,238.37 421.00,238.65 421.50,238.91 422.00,239.15 422.50,239.37 423.00,239.58 423.50,239.77 424.00,239.95 424.50,240.11 425.00,240.27 425.50,240.41 426.00,240.54 426.50,240.66 427.00,240.77 427.50,240.87 428.00,240.97 428.50,241.05 429.00,241.14 429.50,241.21 430.00,241.28 430.50,241.35 431.00,241.41 431.50,241.47 432.00,241.53 432.50,241.58 433.00,241.63 433.50,241.68 434.00,241.72 434.50,241.76 435.00,241.80 435.50,241.84 436.00,241.88 436.50,241.92 437.00,241.95 437.50,241.99 438.00,242.02 438.50,242.05 439.00,242.08 439.50,242.12 440.00,242.15 440.50,242.18 441.00,242.21 441.50,242.23 442.00,242.26 442.50,242.29 443.00,242.32 443.50,242.35 444.00,242.37 444.50,242.40 445.00,242.43 445.50,242.45 446.00,242.48 446.50,242.51 447.00,242.53 447.50,242.56 448.00,242.58 448.50,242.61 449.00,242.63 449.50,242.65 450.00,242.68 450.50,242.70 451.00,242.73 451.50,242.75 452.00,242.77 452.50,242.79 453.00,242.82 453.50,242.84 454.00,242.86 454.50,242.89 455.00,242.91 455.50,242.93 456.00,242.95 456.50,242.97 457.00,243.00 457.50,243.02 458.00,243.04 458.50,243.06 459.00,243.08 459.50,243.10 460.00,243.12 460.50,243.14 461.00,243.17 461.50,243.19 462.00,243.21 462.50,243.23 463.00,243.25 463.50,243.27 464.00,243.29 464.50,243.31 465.00,243.33 465.50,243.35 466.00,243.37 466.50,243.39 467.00,243.41 467.50,243.43 468.00,243.45 468.50,243.47 469.00,243.49 469.50,243.51 470.00,243.53 470.50,243.55 471.00,243.57 471.50,243.59 472.00,243.61 472.50,243.63 473.00,243.65 473.50,243.66 474.00,243.68 474.50,243.70 475.00,243.72 475.50,243.74 476.00,243.76 476.50,243.78 477.00,243.80 477.50,243.82 478.00,243.84 478.50,243.86 479.00,243.87 479.50,243.89 480.00,243.91 480.50,243.93 481.00,243.95 481.50,243.97 482.00,243.99 482.50,244.00 483.00,244.02 483.50,244.04 484.00,244.06 484.50,244.08 485.00,244.10 485.50,244.12 486.00,244.13 486.50,244.15 487.00,244.17 487.50,244.19 488.00,244.21 488.50,244.23 489.00,244.24 489.50,244.26 490.00,244.28 490.50,244.30 491.00,244.32 491.50,244.34 492.00,244.35 492.50,244.37 493.00,244.39 493.50,244.41 494.00,244.43 494.50,244.44 495.00,244.46 495.50,244.48 496.00,244.50 496.50,244.52 497.00,244.53 497.50,244.55 498.00,244.57 498.50,244.59 499.00,244.61 499.50,244.62 500.00,244.64 500.50,244.66 501.00,244.68 501.50,244.70 502.00,244.71 502.50,244.73 503.00,244.75 503.50,244.77 504.00,244.78 504.50,244.80 505.00,244.82 505.50,244.84 506.00,244.86 506.50,244.87 507.00,244.89 507.50,244.91 508.00,244.93 508.50,244.94 509.00,244.96 509.50,244.98 510.00,245.00 510.50,245.01 511.00,245.03 511.50,245.05 512.00,245.07 512.50,245.08 513.00,245.10 513.50,245.12 514.00,245.14 514.50,245.16 515.00,245.17 515.50,245.19 516.00,245.21 516.50,245.23 517.00,245.24 517.50,245.26 518.00,245.28 518.50,245.30 519.00,245.31 519.50,245.33 520.00,245.35 520.50,245.37 521.00,245.38 521.50,245.40 522.00,245.42 522.50,245.44 523.00,245.45 523.50,245.47 524.00,245.49 524.50,245.51 525.00,245.52 525.50,245.54 526.00,245.56 526.50,245.58 527.00,245.59 527.50,245.61 528.00,245.63 528.50,245.64 529.00,245.66 529.50,245.68 530.00,245.70 530.50,245.71 531.00,245.73 531.50,245.75 532.00,245.77 532.50,245.78 533.00,245.80 533.50,245.82 534.00,245.84 534.50,245.85 535.00,245.87 535.50,245.89 536.00,245.91 536.50,245.92 537.00,245.94" fill="none" stroke="#800080" stroke-width="2.6" stroke-linejoin="round"/>
<polyline points="292.00,238.36 292.50,238.37 293.00,238.38 293.50,238.39 294.00,238.41 294.50,238.42 295.00,238.43 295.50,238.44 296.00,238.45 296.50,238.46 297.00,238.48 297.50,238.49 298.00,238.50 298.50,238.51 299.00,238.52 299.50,238.53 300.00,238.55 300.50,238.56 301.00,238.57 301.50,238.58 302.00,238.59 302.50,238.60 303.00,238.61 303.50,238.63 304.00,238.64 304.50,238.65 305.00,238.66 305.50,238.67 306.00,238.68 306.50,238.69 307.00,238.71 307.50,238.72 308.00,238.73 308.50,238.74 309.00,238.75 309.50,238.76 310.00,238.77 310.50,238.78 311.00,238.80 311.50,238.81 312.00,238.82 312.50,238.83 313.00,238.84 313.50,238.85 314.00,238.86 314.50,238.87 315.00,238.89 315.50,238.90 316.00,238.91 316.50,238.92 317.00,238.93 317.50,238.94 318.00,238.95 318.50,238.96 319.00,238.97 319.50,238.98 320.00,238.99 320.50,239.01 321.00,239.02 321.50,239.03 322.00,239.04 322.50,239.05 323.00,239.06 323.50,239.07 324.00,239.08 324.50,239.09 325.00,239.10 325.50,239.11 326.00,239.12 326.50,239.13 327.00,239.14 327.50,239.15 328.00,239.16 328.50,239.17 329.00,239.18 329.50,239.19 330.00,239.20 330.50,239.21 331.00,239.22 331.50,239.23 332.00,239.24 332.50,239.25 333.00,239.26 333.50,239.27 334.00,239.28 334.50,239.29 335.00,239.30 335.50,239.31 336.00,239.32 336.50,239.33 337.00,239.34 337.50,239.35 338.00,239.36 338.50,239.37 339.00,239.37 339.50,239.38 340.00,239.39 340.50,239.40 341.00,239.41 341.50,239.41 342.00,239.42 342.50,239.43 343.00,239.44 343.50,239.44 344.00,239.45 344.50,239.46 345.00,239.46 345.50,239.47 346.00,239.47 346.50,239.48 347.00,239.48 347.50,239.48 348.00,239.48 348.50,239.49 349.00,239.49 349.50,239.49 350.00,239.48 350.50,239.48 351.00,239.48 351.50,239.47 352.00,239.46 352.50,239.45 353.00,239.44 353.50,239.42 354.00,239.41 354.50,239.39 355.00,239.37 355.50,239.34 356.00,239.32 356.50,239.28 357.00,239.25 357.50,239.20 358.00,239.16 358.50,239.10 359.00,239.04 359.50,238.97 360.00,238.90 360.50,238.82 361.00,238.72 361.50,238.62 362.00,238.51 362.50,238.40 363.00,238.27 363.50,238.13 364.00,237.98 364.50,237.82 365.00,237.64 365.50,237.46 366.00,237.26 366.50,237.06 367.00,236.84 367.50,236.61 368.00,236.36 368.50,236.11 369.00,235.85 369.50,235.57 370.00,235.29 370.50,235.00 371.00,234.70 371.50,234.39 372.00,234.08 372.50,233.76 373.00,233.44 373.50,233.11 374.00,232.79 374.50,232.46 375.00,232.14 375.50,231.82 376.00,231.51 376.50,231.21 377.00,230.92 377.50,230.64 378.00,230.37 378.50,230.13 379.00,229.90 379.50,229.69 380.00,229.50 380.50,229.34 381.00,229.20 381.50,229.10 382.00,229.02 382.50,228.97 383.00,228.95 383.50,228.96 384.00,229.01 384.50,229.08 385.00,229.19 385.50,229.32 386.00,229.48 386.50,229.67 387.00,229.89 387.50,230.13 388.00,230.38 388.50,230.66 389.00,230.96 389.50,231.27 390.00,231.59 390.50,231.92 391.00,232.26 391.50,232.61 392.00,232.96 392.50,233.32 393.00,233.68 393.50,234.03 394.00,234.39 394.50,234.74 395.00,235.09 395.50,235.43 396.00,235.76 396.50,236.09 397.00,236.41 397.50,236.72 398.00,237.02 398.50,237.30 399.00,237.58 399.50,237.85 400.00,238.10 400.50,238.34 401.00,238.57 401.50,238.79 402.00,239.00 402.50,239.20 403.00,239.38 403.50,239.56 404.00,239.72 404.50,239.87 405.00,240.02 405.50,240.15 406.00,240.28 406.50,240.39 407.00,240.50 407.50,240.60 408.00,240.70 408.50,240.79 409.00,240.87 409.50,240.94 410.00,241.02 410.50,241.08 411.00,241.14 411.50,241.20 412.00,241.25 412.50,241.30 413.00,241.35 413.50,241.39 414.00,241.44 414.50,241.48 415.00,241.51 415.50,241.55 416.00,241.58 416.50,241.61 417.00,241.64 417.50,241.67 418.00,241.70 418.50,241.73 419.00,241.75 419.50,241.78 420.00,241.80 420.50,241.83 421.00,241.85 421.50,241.88 422.00,241.90 422.50,241.92 423.00,241.94 423.50,241.96 424.00,241.99 424.50,242.01 425.00,242.03 425.50,242.05 426.00,242.07 426.50,242.09 427.00,242.11 427.50,242.13 428.00,242.15 428.50,242.17 429.00,242.19 429.50,242.21 430.00,242.23 430.50,242.25 431.00,242.27 431.50,242.28 432.00,242.30 432.50,242.32 433.00,242.34 433.50,242.36 434.00,242.38 434.50,242.40 435.00,242.42 435.50,242.43 436.00,242.45 436.50,242.47 437.00,242.49 437.50,242.51 438.00,242.53 438.50,242.54 439.00,242.56 439.50,242.58 440.00,242.60 440.50,242.62 441.00,242.64 441.50,242.65 442.00,242.67 442.50,242.69 443.00,242.71 443.50,242.73 444.00,242.75 444.50,242.76 445.00,242.78 445.50,242.80 446.00,242.82 446.50,242.84 447.00,242.86 447.50,242.87 448.00,242.89 448.50,242.91 449.00,242.93 449.50,242.95 450.00,242.96 450.50,242.98 451.00,243.00 451.50,243.02 452.00,243.04 452.50,243.05 453.00,243.07 453.50,243.09 454.00,243.11 454.50,243.13 455.00,243.14 455.50,243.16 456.00,243.18 456.50,243.20 457.00,243.22 457.50,243.23 458.00,243.25 458.50,243.27 459.00,243.29 459.50,243.30 460.00,243.32 460.50,243.34 461.00,243.36 461.50,243.37 462.00,243.39 462.50,243.41 463.00,243.43 463.50,243.44 464.00,243.46 464.50,243.48 465.00,243.50 465.50,243.52 466.00,243.53 466.50,243.55 467.00,243.57 467.50,243.59 468.00,243.60 468.50,243.62 469.00,243.64 469.50,243.66 470.00,243.67 470.50,243.69 471.00,243.71 471.50,243.73 472.00,243.74 472.50,243.76 473.00,243.78 473.50,243.79 474.00,243.81 474.50,243.83 475.00,243.85 475.50,243.86 476.00,243.88 476.50,243.90 477.00,243.92 477.50,243.93 478.00,243.95 478.50,243.97 479.00,243.99 479.50,244.00 480.00,244.02 480.50,244.04 481.00,244.06 481.50,244.07 482.00,244.09 482.50,244.11 483.00,244.12 483.50,244.14 484.00,244.16 484.50,244.18 485.00,244.19 485.50,244.21 486.00,244.23 486.50,244.25 487.00,244.26 487.50,244.28 488.00,244.30 488.50,244.31 489.00,244.33 489.50,244.35 490.00,244.37 490.50,244.38 491.00,244.40 491.50,244.42 492.00,244.43 492.50,244.45 493.00,244.47 493.50,244.49 494.00,244.50 494.50,244.52 495.00,244.54 495.50,244.56 496.00,244.57 496.50,244.59 497.00,244.61 497.50,244.62 498.00,244.64 498.50,244.66 499.00,244.68 499.50,244.69 500.00,244.71 500.50,244.73 501.00,244.74 501.50,244.76 502.00,244.78 502.50,244.80 503.00,244.81 503.50,244.83 504.00,244.85 504.50,244.86 505.00,244.88 505.50,244.90 506.00,244.92 506.50,244.93 507.00,244.95 507.50,244.97 508.00,244.98 508.50,245.00 509.00,245.02 509.50,245.04 510.00,245.05 510.50,245.07 511.00,245.09 511.50,245.10 512.00,245.12 512.50,245.14 513.00,245.16 513.50,245.17 514.00,245.19 514.50,245.21 515.00,245.22 515.50,245.24 516.00,245.26 516.50,245.28 517.00,245.29 517.50,245.31 518.00,245.33 518.50,245.34 519.00,245.36 519.50,245.38 520.00,245.40 520.50,245.41 521.00,245.43 521.50,245.45 522.00,245.46 522.50,245.48 523.00,245.50 523.50,245.51 524.00,245.53 524.50,245.55 525.00,245.57 525.50,245.58 526.00,245.60 526.50,245.62 527.00,245.63 527.50,245.65 528.00,245.67 528.50,245.69 529.00,245.70 529.50,245.72 530.00,245.74 530.50,245.75 531.00,245.77 531.50,245.79 532.00,245.80 532.50,245.82 533.00,245.84 533.50,245.86 534.00,245.87 534.50,245.89 535.00,245.91 535.50,245.92 536.00,245.94 536.50,245.96 537.00,245.98" fill="none" stroke="#008000" stroke-width="2.6" stroke-linejoin="round"/>
<rect x="292.0" y="38.4" width="245.10000000000002" height="226.79999999999998" fill="none" stroke="#000" stroke-width="1.3"/>
<line x1="291.95" y1="265.2" x2="291.95" y2="270.7" stroke="#000" stroke-width="1.3"/>
<text x="291.35" y="282.6" font-size="13.5" text-anchor="middle">294</text>
<line x1="326.91" y1="265.2" x2="326.91" y2="270.7" stroke="#000" stroke-width="1.3"/>
<text x="326.31" y="282.6" font-size="13.5" text-anchor="middle">292</text>
<line x1="361.87" y1="265.2" x2="361.87" y2="270.7" stroke="#000" stroke-width="1.3"/>
<text x="361.27" y="282.6" font-size="13.5" text-anchor="middle">290</text>
<line x1="396.83" y1="265.2" x2="396.83" y2="270.7" stroke="#000" stroke-width="1.3"/>
<text x="396.23" y="282.6" font-size="13.5" text-anchor="middle">288</text>
<line x1="431.79" y1="265.2" x2="431.79" y2="270.7" stroke="#000" stroke-width="1.3"/>
<text x="431.19" y="282.6" font-size="13.5" text-anchor="middle">286</text>
<line x1="466.75" y1="265.2" x2="466.75" y2="270.7" stroke="#000" stroke-width="1.3"/>
<text x="466.15" y="282.6" font-size="13.5" text-anchor="middle">284</text>
<line x1="501.71" y1="265.2" x2="501.71" y2="270.7" stroke="#000" stroke-width="1.3"/>
<text x="501.11" y="282.6" font-size="13.5" text-anchor="middle">282</text>
<line x1="536.67" y1="265.2" x2="536.67" y2="270.7" stroke="#000" stroke-width="1.3"/>
<text x="536.07" y="282.6" font-size="13.5" text-anchor="middle">280</text>
<text x="413.9" y="302" font-size="15" text-anchor="middle">Binding energy (eV)</text>
<text x="298.3" y="22.7" font-size="23" text-anchor="middle">(b)</text>
<rect x="292" y="37.3" width="73.0" height="98.89999999999999" fill="#fff"/>
<line x1="292" y1="37.3" x2="365.0" y2="37.3" stroke="#9c9c9c" stroke-width="1.3"/>
<line x1="365.0" y1="36.65" x2="365.0" y2="136.85" stroke="#9c9c9c" stroke-width="1.3"/>
<line x1="292" y1="136.2" x2="365.0" y2="136.2" stroke="#a4a4a4" stroke-width="1.3"/>
<line x1="292.0" y1="37.75" x2="292.0" y2="137.2" stroke="#000" stroke-width="1.3"/>
<line x1="293" y1="48.90" x2="320" y2="48.90" stroke="#000000" stroke-width="2.8"/>
<text transform="translate(325.50,52.10) scale(1.0,1.07)" font-size="13">sum</text>
<line x1="293" y1="64.96" x2="320" y2="64.96" stroke="#ff0000" stroke-width="2.8"/>
<text transform="translate(325.50,68.16) scale(1.0,1.07)" font-size="13">sp</text>
<text transform="translate(338.10,63.76) scale(0.75,1.0)" font-size="7.5">2</text>
<text transform="translate(340.80,68.16) scale(1.0,1.07)" font-size="13">C</text>
<line x1="293" y1="81.02" x2="320" y2="81.02" stroke="#ff0080" stroke-width="2.8"/>
<text transform="translate(325.50,84.22) scale(1.0,1.07)" font-size="13">sp</text>
<text transform="translate(338.10,79.82) scale(0.75,1.0)" font-size="7.5">3</text>
<text transform="translate(340.80,84.22) scale(1.0,1.07)" font-size="13">C</text>
<line x1="293" y1="97.08" x2="320" y2="97.08" stroke="#0000ff" stroke-width="2.8"/>
<text transform="translate(325.50,100.28) scale(1.0,1.07)" font-size="13">C-O</text>
<line x1="293" y1="113.14" x2="320" y2="113.14" stroke="#800080" stroke-width="2.8"/>
<text transform="translate(325.50,116.34) scale(1.0,1.07)" font-size="13">-C=O</text>
<line x1="293" y1="129.20" x2="320" y2="129.20" stroke="#008000" stroke-width="2.8"/>
<text transform="translate(325.50,132.40) scale(1.0,1.07)" font-size="13">-COO-</text>
<polyline points="557.20,239.20 557.70,239.22 558.20,239.23 558.70,239.25 559.20,239.27 559.70,239.29 560.20,239.30 560.70,239.32 561.20,239.34 561.70,239.36 562.20,239.37 562.70,239.39 563.20,239.41 563.70,239.43 564.20,239.44 564.70,239.46 565.20,239.48 565.70,239.49 566.20,239.51 566.70,239.53 567.20,239.54 567.70,239.56 568.20,239.58 568.70,239.59 569.20,239.61 569.70,239.63 570.20,239.64 570.70,239.66 571.20,239.67 571.70,239.69 572.20,239.70 572.70,239.72 573.20,239.73 573.70,239.75 574.20,239.76 574.70,239.78 575.20,239.79 575.70,239.80 576.20,239.82 576.70,239.83 577.20,239.84 577.70,239.85 578.20,239.86 578.70,239.87 579.20,239.88 579.70,239.89 580.20,239.90 580.70,239.91 581.20,239.92 581.70,239.93 582.20,239.93 582.70,239.94 583.20,239.95 583.70,239.95 584.20,239.96 584.70,239.96 585.20,239.96 585.70,239.96 586.20,239.96 586.70,239.96 587.20,239.96 587.70,239.96 588.20,239.95 588.70,239.95 589.20,239.94 589.70,239.94 590.20,239.93 590.70,239.92 591.20,239.91 591.70,239.90 592.20,239.88 592.70,239.87 593.20,239.85 593.70,239.83 594.20,239.81 594.70,239.79 595.20,239.77 595.70,239.75 596.20,239.72 596.70,239.69 597.20,239.66 597.70,239.63 598.20,239.60 598.70,239.57 599.20,239.53 599.70,239.49 600.20,239.45 600.70,239.41 601.20,239.37 601.70,239.33 602.20,239.28 602.70,239.23 603.20,239.18 603.70,239.13 604.20,239.08 604.70,239.02 605.20,238.97 605.70,238.91 606.20,238.85 606.70,238.79 607.20,238.73 607.70,238.67 608.20,238.60 608.70,238.54 609.20,238.47 609.70,238.40 610.20,238.33 610.70,238.26 611.20,238.19 611.70,238.12 612.20,238.04 612.70,237.97 613.20,237.90 613.70,237.82 614.20,237.74 614.70,237.67 615.20,237.59 615.70,237.51 616.20,237.44 616.70,237.36 617.20,237.28 617.70,237.20 618.20,237.12 618.70,237.04 619.20,236.96 619.70,236.88 620.20,236.80 620.70,236.72 621.20,236.63 621.70,236.55 622.20,236.47 622.70,236.39 623.20,236.30 623.70,236.22 624.20,236.13 624.70,236.05 625.20,235.96 625.70,235.87 626.20,235.78 626.70,235.69 627.20,235.60 627.70,235.51 628.20,235.41 628.70,235.32 629.20,235.22 629.70,235.12 630.20,235.02 630.70,234.92 631.20,234.81 631.70,234.71 632.20,234.60 632.70,234.49 633.20,234.38 633.70,234.27 634.20,234.16 634.70,234.04 635.20,233.92 635.70,233.81 636.20,233.69 636.70,233.57 637.20,233.45 637.70,233.33 638.20,233.22 638.70,233.10 639.20,232.98 639.70,232.86 640.20,232.75 640.70,232.63 641.20,232.52 641.70,232.41 642.20,232.30 642.70,232.19 643.20,232.09 643.70,231.99 644.20,231.89 644.70,231.79 645.20,231.70 645.70,231.61 646.20,231.52 646.70,231.44 647.20,231.36 647.70,231.29 648.20,231.21 648.70,231.15 649.20,231.08 649.70,231.02 650.20,230.95 650.70,230.90 651.20,230.84 651.70,230.78 652.20,230.73 652.70,230.68 653.20,230.63 653.70,230.58 654.20,230.53 654.70,230.48 655.20,230.43 655.70,230.37 656.20,230.32 656.70,230.27 657.20,230.21 657.70,230.15 658.20,230.09 658.70,230.03 659.20,229.97 659.70,229.90 660.20,229.83 660.70,229.76 661.20,229.69 661.70,229.61 662.20,229.53 662.70,229.45 663.20,229.37 663.70,229.28 664.20,229.19 664.70,229.10 665.20,229.01 665.70,228.92 666.20,228.83 666.70,228.73 667.20,228.63 667.70,228.54 668.20,228.44 668.70,228.34 669.20,228.24 669.70,228.14 670.20,228.04 670.70,227.94 671.20,227.84 671.70,227.73 672.20,227.63 672.70,227.52 673.20,227.41 673.70,227.30 674.20,227.19 674.70,227.07 675.20,226.95 675.70,226.82 676.20,226.69 676.70,226.55 677.20,226.40 677.70,226.24 678.20,226.07 678.70,225.89 679.20,225.70 679.70,225.49 680.20,225.28 680.70,225.04 681.20,224.79 681.70,224.52 682.20,224.23 682.70,223.92 683.20,223.59 683.70,223.24 684.20,222.87 684.70,222.47 685.20,222.06 685.70,221.61 686.20,221.14 686.70,220.65 687.20,220.14 687.70,219.60 688.20,219.03 688.70,218.45 689.20,217.84 689.70,217.21 690.20,216.56 690.70,215.89 691.20,215.20 691.70,214.50 692.20,213.78 692.70,213.05 693.20,212.30 693.70,211.55 694.20,210.79 694.70,210.02 695.20,209.25 695.70,208.48 696.20,207.70 696.70,206.92 697.20,206.14 697.70,205.36 698.20,204.58 698.70,203.80 699.20,203.01 699.70,202.22 700.20,201.42 700.70,200.61 701.20,199.78 701.70,198.92 702.20,198.04 702.70,197.13 703.20,196.16 703.70,195.15 704.20,194.07 704.70,192.91 705.20,191.67 705.70,190.33 706.20,188.87 706.70,187.29 707.20,185.56 707.70,183.69 708.20,181.64 708.70,179.42 709.20,177.00 709.70,174.38 710.20,171.55 710.70,168.50 711.20,165.23 711.70,161.73 712.20,158.00 712.70,154.06 713.20,149.90 713.70,145.53 714.20,140.97 714.70,136.25 715.20,131.37 715.70,126.37 716.20,121.28 716.70,116.13 717.20,110.96 717.70,105.81 718.20,100.72 718.70,95.73 719.20,90.90 719.70,86.26 720.20,81.87 720.70,77.77 721.20,74.02 721.70,70.64 722.20,67.68 722.70,65.19 723.20,63.18 723.70,61.70 724.20,60.77 724.70,60.39 725.20,60.59 725.70,61.38 726.20,62.74 726.70,64.67 727.20,67.17 727.70,70.20 728.20,73.75 728.70,77.79 729.20,82.28 729.70,87.18 730.20,92.46 730.70,98.06 731.20,103.93 731.70,110.04 732.20,116.33 732.70,122.75 733.20,129.26 733.70,135.80 734.20,142.33 734.70,148.81 735.20,155.20 735.70,161.47 736.20,167.57 736.70,173.49 737.20,179.19 737.70,184.66 738.20,189.87 738.70,194.82 739.20,199.50 739.70,203.90 740.20,208.01 740.70,211.84 741.20,215.40 741.70,218.68 742.20,221.69 742.70,224.45 743.20,226.97 743.70,229.25 744.20,231.31 744.70,233.17 745.20,234.83 745.70,236.31 746.20,237.64 746.70,238.81 747.20,239.84 747.70,240.75 748.20,241.54 748.70,242.24 749.20,242.84 749.70,243.37 750.20,243.82 750.70,244.21 751.20,244.55 751.70,244.84 752.20,245.08 752.70,245.30 753.20,245.48 753.70,245.63 754.20,245.76 754.70,245.87 755.20,245.97 755.70,246.05 756.20,246.12 756.70,246.19 757.20,246.24 757.70,246.29 758.20,246.33 758.70,246.36 759.20,246.40 759.70,246.43 760.20,246.46 760.70,246.48 761.20,246.51 761.70,246.53 762.20,246.55 762.70,246.57 763.20,246.59 763.70,246.61 764.20,246.63 764.70,246.65 765.20,246.67 765.70,246.69 766.20,246.71 766.70,246.72 767.20,246.74 767.70,246.76 768.20,246.78 768.70,246.80 769.20,246.81 769.70,246.83 770.20,246.85 770.70,246.87 771.20,246.89 771.70,246.90 772.20,246.92 772.70,246.94 773.20,246.96 773.70,246.98 774.20,246.99 774.70,247.01 775.20,247.03 775.70,247.05 776.20,247.07 776.70,247.08 777.20,247.10 777.70,247.12 778.20,247.14 778.70,247.16 779.20,247.17 779.70,247.19 780.20,247.21 780.70,247.23 781.20,247.25 781.70,247.26 782.20,247.28 782.70,247.30 783.20,247.32 783.70,247.34 784.20,247.35 784.70,247.37 785.20,247.39 785.70,247.41 786.20,247.43 786.70,247.44 787.20,247.46 787.70,247.48 788.20,247.50 788.70,247.52 789.20,247.53 789.70,247.55 790.20,247.57 790.70,247.59 791.20,247.60 791.70,247.62 792.20,247.64 792.70,247.66 793.20,247.68 793.70,247.69 794.20,247.71 794.70,247.73 795.20,247.75 795.70,247.77 796.20,247.78 796.70,247.80 797.20,247.82 797.70,247.84 798.20,247.86 798.70,247.87 799.20,247.89 799.70,247.91 800.20,247.93 800.70,247.95 801.20,247.96 801.70,247.98 802.20,248.00" fill="none" stroke="#000" stroke-width="2.6" stroke-linejoin="round"/>
<polyline points="557.20,239.19 557.70,239.21 558.20,239.22 558.70,239.24 559.20,239.26 559.70,239.28 560.20,239.29 560.70,239.31 561.20,239.33 561.70,239.35 562.20,239.37 562.70,239.38 563.20,239.40 563.70,239.42 564.20,239.44 564.70,239.46 565.20,239.47 565.70,239.49 566.20,239.51 566.70,239.53 567.20,239.54 567.70,239.56 568.20,239.58 568.70,239.60 569.20,239.62 569.70,239.63 570.20,239.65 570.70,239.67 571.20,239.69 571.70,239.71 572.20,239.72 572.70,239.74 573.20,239.76 573.70,239.78 574.20,239.79 574.70,239.81 575.20,239.83 575.70,239.85 576.20,239.87 576.70,239.88 577.20,239.90 577.70,239.92 578.20,239.94 578.70,239.96 579.20,239.97 579.70,239.99 580.20,240.01 580.70,240.03 581.20,240.04 581.70,240.06 582.20,240.08 582.70,240.10 583.20,240.12 583.70,240.13 584.20,240.15 584.70,240.17 585.20,240.19 585.70,240.21 586.20,240.22 586.70,240.24 587.20,240.26 587.70,240.28 588.20,240.29 588.70,240.31 589.20,240.33 589.70,240.35 590.20,240.37 590.70,240.38 591.20,240.40 591.70,240.42 592.20,240.44 592.70,240.45 593.20,240.47 593.70,240.49 594.20,240.51 594.70,240.53 595.20,240.54 595.70,240.56 596.20,240.58 596.70,240.60 597.20,240.61 597.70,240.63 598.20,240.65 598.70,240.67 599.20,240.69 599.70,240.70 600.20,240.72 600.70,240.74 601.20,240.76 601.70,240.77 602.20,240.79 602.70,240.81 603.20,240.83 603.70,240.85 604.20,240.86 604.70,240.88 605.20,240.90 605.70,240.92 606.20,240.93 606.70,240.95 607.20,240.97 607.70,240.99 608.20,241.01 608.70,241.02 609.20,241.04 609.70,241.06 610.20,241.08 610.70,241.09 611.20,241.11 611.70,241.13 612.20,241.15 612.70,241.17 613.20,241.18 613.70,241.20 614.20,241.22 614.70,241.24 615.20,241.25 615.70,241.27 616.20,241.29 616.70,241.31 617.20,241.32 617.70,241.34 618.20,241.36 618.70,241.38 619.20,241.40 619.70,241.41 620.20,241.43 620.70,241.45 621.20,241.47 621.70,241.48 622.20,241.50 622.70,241.52 623.20,241.54 623.70,241.55 624.20,241.57 624.70,241.59 625.20,241.61 625.70,241.62 626.20,241.64 626.70,241.66 627.20,241.68 627.70,241.69 628.20,241.71 628.70,241.73 629.20,241.75 629.70,241.77 630.20,241.78 630.70,241.80 631.20,241.82 631.70,241.84 632.20,241.85 632.70,241.87 633.20,241.89 633.70,241.91 634.20,241.92 634.70,241.94 635.20,241.96 635.70,241.98 636.20,241.99 636.70,242.01 637.20,242.03 637.70,242.05 638.20,242.06 638.70,242.08 639.20,242.10 639.70,242.11 640.20,242.13 640.70,242.15 641.20,242.17 641.70,242.18 642.20,242.20 642.70,242.22 643.20,242.24 643.70,242.25 644.20,242.27 644.70,242.29 645.20,242.31 645.70,242.32 646.20,242.34 646.70,242.36 647.20,242.37 647.70,242.39 648.20,242.41 648.70,242.43 649.20,242.44 649.70,242.46 650.20,242.48 650.70,242.49 651.20,242.51 651.70,242.53 652.20,242.55 652.70,242.56 653.20,242.58 653.70,242.60 654.20,242.61 654.70,242.63 655.20,242.65 655.70,242.66 656.20,242.68 656.70,242.70 657.20,242.72 657.70,242.73 658.20,242.75 658.70,242.77 659.20,242.78 659.70,242.80 660.20,242.82 660.70,242.83 661.20,242.85 661.70,242.87 662.20,242.88 662.70,242.90 663.20,242.92 663.70,242.93 664.20,242.95 664.70,242.97 665.20,242.98 665.70,243.00 666.20,243.01 666.70,243.03 667.20,243.05 667.70,243.06 668.20,243.08 668.70,243.10 669.20,243.11 669.70,243.13 670.20,243.14 670.70,243.16 671.20,243.18 671.70,243.19 672.20,243.21 672.70,243.22 673.20,243.24 673.70,243.25 674.20,243.27 674.70,243.28 675.20,243.30 675.70,243.32 676.20,243.33 676.70,243.35 677.20,243.36 677.70,243.38 678.20,243.39 678.70,243.40 679.20,243.42 679.70,243.43 680.20,243.45 680.70,243.46 681.20,243.48 681.70,243.49 682.20,243.50 682.70,243.52 683.20,243.53 683.70,243.54 684.20,243.56 684.70,243.57 685.20,243.58 685.70,243.60 686.20,243.61 686.70,243.62 687.20,243.63 687.70,243.64 688.20,243.65 688.70,243.65 689.20,243.66 689.70,243.67 690.20,243.67 690.70,243.67 691.20,243.67 691.70,243.66 692.20,243.65 692.70,243.64 693.20,243.62 693.70,243.59 694.20,243.56 694.70,243.51 695.20,243.45 695.70,243.38 696.20,243.29 696.70,243.18 697.20,243.05 697.70,242.89 698.20,242.70 698.70,242.48 699.20,242.21 699.70,241.89 700.20,241.52 700.70,241.09 701.20,240.58 701.70,240.00 702.20,239.33 702.70,238.55 703.20,237.67 703.70,236.66 704.20,235.52 704.70,234.22 705.20,232.77 705.70,231.14 706.20,229.32 706.70,227.30 707.20,225.07 707.70,222.60 708.20,219.90 708.70,216.95 709.20,213.73 709.70,210.25 710.20,206.50 710.70,202.48 711.20,198.17 711.70,193.60 712.20,188.76 712.70,183.66 713.20,178.31 713.70,172.74 714.20,166.96 714.70,160.99 715.20,154.87 715.70,148.63 716.20,142.31 716.70,135.93 717.20,129.55 717.70,123.21 718.20,116.96 718.70,110.85 719.20,104.93 719.70,99.24 720.20,93.84 720.70,88.78 721.20,84.10 721.70,79.86 722.20,76.09 722.70,72.83 723.20,70.12 723.70,67.99 724.20,66.45 724.70,65.53 725.20,65.23 725.70,65.57 726.20,66.52 726.70,68.10 727.20,70.27 727.70,73.01 728.20,76.31 728.70,80.11 729.20,84.39 729.70,89.10 730.20,94.20 730.70,99.63 731.20,105.36 731.70,111.32 732.20,117.47 732.70,123.75 733.20,130.13 733.70,136.54 734.20,142.95 734.70,149.32 735.20,155.59 735.70,161.75 736.20,167.75 736.70,173.56 737.20,179.17 737.70,184.55 738.20,189.69 738.70,194.57 739.20,199.18 739.70,203.52 740.20,207.58 740.70,211.37 741.20,214.88 741.70,218.13 742.20,221.12 742.70,223.86 743.20,226.36 743.70,228.63 744.20,230.69 744.70,232.54 745.20,234.21 745.70,235.70 746.20,237.03 746.70,238.20 747.20,239.25 747.70,240.17 748.20,240.98 748.70,241.69 749.20,242.31 749.70,242.85 750.20,243.32 750.70,243.72 751.20,244.08 751.70,244.38 752.20,244.64 752.70,244.87 753.20,245.06 753.70,245.23 754.20,245.37 754.70,245.50 755.20,245.61 755.70,245.70 756.20,245.78 756.70,245.85 757.20,245.92 757.70,245.97 758.20,246.02 758.70,246.07 759.20,246.11 759.70,246.15 760.20,246.18 760.70,246.22 761.20,246.25 761.70,246.28 762.20,246.30 762.70,246.33 763.20,246.36 763.70,246.38 764.20,246.41 764.70,246.43 765.20,246.46 765.70,246.48 766.20,246.50 766.70,246.53 767.20,246.55 767.70,246.57 768.20,246.59 768.70,246.62 769.20,246.64 769.70,246.66 770.20,246.68 770.70,246.70 771.20,246.72 771.70,246.75 772.20,246.77 772.70,246.79 773.20,246.81 773.70,246.83 774.20,246.85 774.70,246.87 775.20,246.89 775.70,246.91 776.20,246.93 776.70,246.95 777.20,246.97 777.70,246.99 778.20,247.01 778.70,247.03 779.20,247.05 779.70,247.07 780.20,247.09 780.70,247.11 781.20,247.13 781.70,247.15 782.20,247.17 782.70,247.19 783.20,247.21 783.70,247.23 784.20,247.25 784.70,247.27 785.20,247.29 785.70,247.31 786.20,247.33 786.70,247.35 787.20,247.37 787.70,247.39 788.20,247.41 788.70,247.43 789.20,247.45 789.70,247.47 790.20,247.49 790.70,247.50 791.20,247.52 791.70,247.54 792.20,247.56 792.70,247.58 793.20,247.60 793.70,247.62 794.20,247.64 794.70,247.66 795.20,247.68 795.70,247.70 796.20,247.71 796.70,247.73 797.20,247.75 797.70,247.77 798.20,247.79 798.70,247.81 799.20,247.83 799.70,247.85 800.20,247.87 800.70,247.88 801.20,247.90 801.70,247.92 802.20,247.94" fill="none" stroke="#ff0000" stroke-width="2.6" stroke-linejoin="round"/>
<polyline points="557.20,239.20 557.70,239.22 558.20,239.24 558.70,239.25 559.20,239.27 559.70,239.29 560.20,239.31 560.70,239.33 561.20,239.34 561.70,239.36 562.20,239.38 562.70,239.40 563.20,239.42 563.70,239.43 564.20,239.45 564.70,239.47 565.20,239.49 565.70,239.51 566.20,239.52 566.70,239.54 567.20,239.56 567.70,239.58 568.20,239.60 568.70,239.61 569.20,239.63 569.70,239.65 570.20,239.67 570.70,239.68 571.20,239.70 571.70,239.72 572.20,239.74 572.70,239.76 573.20,239.77 573.70,239.79 574.20,239.81 574.70,239.83 575.20,239.85 575.70,239.86 576.20,239.88 576.70,239.90 577.20,239.92 577.70,239.94 578.20,239.95 578.70,239.97 579.20,239.99 579.70,240.01 580.20,240.03 580.70,240.04 581.20,240.06 581.70,240.08 582.20,240.10 582.70,240.12 583.20,240.13 583.70,240.15 584.20,240.17 584.70,240.19 585.20,240.21 585.70,240.22 586.20,240.24 586.70,240.26 587.20,240.28 587.70,240.30 588.20,240.31 588.70,240.33 589.20,240.35 589.70,240.37 590.20,240.39 590.70,240.40 591.20,240.42 591.70,240.44 592.20,240.46 592.70,240.48 593.20,240.49 593.70,240.51 594.20,240.53 594.70,240.55 595.20,240.56 595.70,240.58 596.20,240.60 596.70,240.62 597.20,240.64 597.70,240.65 598.20,240.67 598.70,240.69 599.20,240.71 599.70,240.73 600.20,240.74 600.70,240.76 601.20,240.78 601.70,240.80 602.20,240.82 602.70,240.83 603.20,240.85 603.70,240.87 604.20,240.89 604.70,240.91 605.20,240.92 605.70,240.94 606.20,240.96 606.70,240.98 607.20,241.00 607.70,241.01 608.20,241.03 608.70,241.05 609.20,241.07 609.70,241.09 610.20,241.10 610.70,241.12 611.20,241.14 611.70,241.16 612.20,241.18 612.70,241.19 613.20,241.21 613.70,241.23 614.20,241.25 614.70,241.27 615.20,241.28 615.70,241.30 616.20,241.32 616.70,241.34 617.20,241.36 617.70,241.37 618.20,241.39 618.70,241.41 619.20,241.43 619.70,241.44 620.20,241.46 620.70,241.48 621.20,241.50 621.70,241.52 622.20,241.53 622.70,241.55 623.20,241.57 623.70,241.59 624.20,241.61 624.70,241.62 625.20,241.64 625.70,241.66 626.20,241.68 626.70,241.70 627.20,241.71 627.70,241.73 628.20,241.75 628.70,241.77 629.20,241.79 629.70,241.80 630.20,241.82 630.70,241.84 631.20,241.86 631.70,241.88 632.20,241.89 632.70,241.91 633.20,241.93 633.70,241.95 634.20,241.97 634.70,241.98 635.20,242.00 635.70,242.02 636.20,242.04 636.70,242.06 637.20,242.07 637.70,242.09 638.20,242.11 638.70,242.13 639.20,242.15 639.70,242.16 640.20,242.18 640.70,242.20 641.20,242.22 641.70,242.24 642.20,242.25 642.70,242.27 643.20,242.29 643.70,242.31 644.20,242.32 644.70,242.34 645.20,242.36 645.70,242.38 646.20,242.40 646.70,242.41 647.20,242.43 647.70,242.45 648.20,242.47 648.70,242.49 649.20,242.50 649.70,242.52 650.20,242.54 650.70,242.56 651.20,242.58 651.70,242.59 652.20,242.61 652.70,242.63 653.20,242.65 653.70,242.67 654.20,242.68 654.70,242.70 655.20,242.72 655.70,242.74 656.20,242.75 656.70,242.77 657.20,242.79 657.70,242.81 658.20,242.82 658.70,242.84 659.20,242.86 659.70,242.88 660.20,242.89 660.70,242.91 661.20,242.93 661.70,242.94 662.20,242.96 662.70,242.97 663.20,242.99 663.70,243.00 664.20,243.01 664.70,243.02 665.20,243.04 665.70,243.05 666.20,243.05 666.70,243.06 667.20,243.07 667.70,243.07 668.20,243.07 668.70,243.07 669.20,243.06 669.70,243.05 670.20,243.04 670.70,243.03 671.20,243.01 671.70,242.98 672.20,242.95 672.70,242.91 673.20,242.86 673.70,242.81 674.20,242.74 674.70,242.67 675.20,242.58 675.70,242.49 676.20,242.38 676.70,242.26 677.20,242.12 677.70,241.96 678.20,241.79 678.70,241.60 679.20,241.39 679.70,241.16 680.20,240.90 680.70,240.62 681.20,240.32 681.70,239.99 682.20,239.63 682.70,239.24 683.20,238.83 683.70,238.38 684.20,237.90 684.70,237.39 685.20,236.85 685.70,236.28 686.20,235.67 686.70,235.03 687.20,234.36 687.70,233.65 688.20,232.92 688.70,232.15 689.20,231.36 689.70,230.54 690.20,229.70 690.70,228.83 691.20,227.95 691.70,227.05 692.20,226.13 692.70,225.21 693.20,224.27 693.70,223.34 694.20,222.41 694.70,221.48 695.20,220.57 695.70,219.66 696.20,218.78 696.70,217.93 697.20,217.10 697.70,216.31 698.20,215.55 698.70,214.84 699.20,214.17 699.70,213.56 700.20,213.00 700.70,212.50 701.20,212.07 701.70,211.69 702.20,211.39 702.70,211.15 703.20,210.99 703.70,210.90 704.20,210.88 704.70,210.93 705.20,211.06 705.70,211.26 706.20,211.53 706.70,211.87 707.20,212.28 707.70,212.76 708.20,213.29 708.70,213.88 709.20,214.53 709.70,215.23 710.20,215.98 710.70,216.77 711.20,217.60 711.70,218.47 712.20,219.36 712.70,220.28 713.20,221.21 713.70,222.16 714.20,223.13 714.70,224.09 715.20,225.06 715.70,226.03 716.20,226.99 716.70,227.94 717.20,228.88 717.70,229.80 718.20,230.70 718.70,231.58 719.20,232.44 719.70,233.27 720.20,234.07 720.70,234.84 721.20,235.58 721.70,236.28 722.20,236.96 722.70,237.60 723.20,238.21 723.70,238.79 724.20,239.34 724.70,239.85 725.20,240.33 725.70,240.79 726.20,241.21 726.70,241.60 727.20,241.97 727.70,242.31 728.20,242.62 728.70,242.92 729.20,243.18 729.70,243.43 730.20,243.66 730.70,243.87 731.20,244.06 731.70,244.23 732.20,244.39 732.70,244.53 733.20,244.67 733.70,244.79 734.20,244.90 734.70,245.00 735.20,245.09 735.70,245.17 736.20,245.25 736.70,245.31 737.20,245.38 737.70,245.43 738.20,245.49 738.70,245.53 739.20,245.58 739.70,245.62 740.20,245.66 740.70,245.69 741.20,245.72 741.70,245.75 742.20,245.78 742.70,245.81 743.20,245.84 743.70,245.86 744.20,245.89 744.70,245.91 745.20,245.93 745.70,245.95 746.20,245.97 746.70,245.99 747.20,246.01 747.70,246.03 748.20,246.05 748.70,246.07 749.20,246.09 749.70,246.11 750.20,246.13 750.70,246.15 751.20,246.17 751.70,246.18 752.20,246.20 752.70,246.22 753.20,246.24 753.70,246.26 754.20,246.28 754.70,246.29 755.20,246.31 755.70,246.33 756.20,246.35 756.70,246.37 757.20,246.38 757.70,246.40 758.20,246.42 758.70,246.44 759.20,246.46 759.70,246.47 760.20,246.49 760.70,246.51 761.20,246.53 761.70,246.55 762.20,246.56 762.70,246.58 763.20,246.60 763.70,246.62 764.20,246.64 764.70,246.65 765.20,246.67 765.70,246.69 766.20,246.71 766.70,246.72 767.20,246.74 767.70,246.76 768.20,246.78 768.70,246.80 769.20,246.81 769.70,246.83 770.20,246.85 770.70,246.87 771.20,246.89 771.70,246.90 772.20,246.92 772.70,246.94 773.20,246.96 773.70,246.98 774.20,246.99 774.70,247.01 775.20,247.03 775.70,247.05 776.20,247.07 776.70,247.08 777.20,247.10 777.70,247.12 778.20,247.14 778.70,247.16 779.20,247.17 779.70,247.19 780.20,247.21 780.70,247.23 781.20,247.25 781.70,247.26 782.20,247.28 782.70,247.30 783.20,247.32 783.70,247.34 784.20,247.35 784.70,247.37 785.20,247.39 785.70,247.41 786.20,247.43 786.70,247.44 787.20,247.46 787.70,247.48 788.20,247.50 788.70,247.52 789.20,247.53 789.70,247.55 790.20,247.57 790.70,247.59 791.20,247.60 791.70,247.62 792.20,247.64 792.70,247.66 793.20,247.68 793.70,247.69 794.20,247.71 794.70,247.73 795.20,247.75 795.70,247.77 796.20,247.78 796.70,247.80 797.20,247.82 797.70,247.84 798.20,247.86 798.70,247.87 799.20,247.89 799.70,247.91 800.20,247.93 800.70,247.95 801.20,247.96 801.70,247.98 802.20,248.00" fill="none" stroke="#ff0080" stroke-width="2.6" stroke-linejoin="round"/>
<polyline points="557.20,239.03 557.70,239.05 558.20,239.07 558.70,239.08 559.20,239.10 559.70,239.12 560.20,239.13 560.70,239.15 561.20,239.17 561.70,239.18 562.20,239.20 562.70,239.22 563.20,239.23 563.70,239.25 564.20,239.27 564.70,239.28 565.20,239.30 565.70,239.32 566.20,239.33 566.70,239.35 567.20,239.36 567.70,239.38 568.20,239.40 568.70,239.41 569.20,239.43 569.70,239.45 570.20,239.46 570.70,239.48 571.20,239.49 571.70,239.51 572.20,239.53 572.70,239.54 573.20,239.56 573.70,239.57 574.20,239.59 574.70,239.61 575.20,239.62 575.70,239.64 576.20,239.65 576.70,239.67 577.20,239.69 577.70,239.70 578.20,239.72 578.70,239.73 579.20,239.75 579.70,239.76 580.20,239.78 580.70,239.80 581.20,239.81 581.70,239.83 582.20,239.84 582.70,239.86 583.20,239.87 583.70,239.89 584.20,239.90 584.70,239.92 585.20,239.94 585.70,239.95 586.20,239.97 586.70,239.98 587.20,240.00 587.70,240.01 588.20,240.03 588.70,240.04 589.20,240.06 589.70,240.07 590.20,240.09 590.70,240.10 591.20,240.12 591.70,240.13 592.20,240.15 592.70,240.16 593.20,240.17 593.70,240.19 594.20,240.20 594.70,240.22 595.20,240.23 595.70,240.25 596.20,240.26 596.70,240.27 597.20,240.29 597.70,240.30 598.20,240.32 598.70,240.33 599.20,240.34 599.70,240.36 600.20,240.37 600.70,240.39 601.20,240.40 601.70,240.41 602.20,240.43 602.70,240.44 603.20,240.45 603.70,240.47 604.20,240.48 604.70,240.49 605.20,240.50 605.70,240.52 606.20,240.53 606.70,240.54 607.20,240.55 607.70,240.57 608.20,240.58 608.70,240.59 609.20,240.60 609.70,240.62 610.20,240.63 610.70,240.64 611.20,240.65 611.70,240.66 612.20,240.67 612.70,240.68 613.20,240.70 613.70,240.71 614.20,240.72 614.70,240.73 615.20,240.74 615.70,240.75 616.20,240.76 616.70,240.77 617.20,240.78 617.70,240.79 618.20,240.80 618.70,240.81 619.20,240.82 619.70,240.83 620.20,240.83 620.70,240.84 621.20,240.85 621.70,240.86 622.20,240.87 622.70,240.87 623.20,240.88 623.70,240.89 624.20,240.90 624.70,240.90 625.20,240.91 625.70,240.92 626.20,240.92 626.70,240.93 627.20,240.93 627.70,240.94 628.20,240.94 628.70,240.95 629.20,240.95 629.70,240.95 630.20,240.96 630.70,240.96 631.20,240.96 631.70,240.96 632.20,240.97 632.70,240.97 633.20,240.97 633.70,240.97 634.20,240.97 634.70,240.97 635.20,240.97 635.70,240.96 636.20,240.96 636.70,240.96 637.20,240.96 637.70,240.95 638.20,240.95 638.70,240.94 639.20,240.94 639.70,240.93 640.20,240.92 640.70,240.91 641.20,240.90 641.70,240.89 642.20,240.88 642.70,240.87 643.20,240.86 643.70,240.85 644.20,240.83 644.70,240.82 645.20,240.80 645.70,240.78 646.20,240.76 646.70,240.74 647.20,240.72 647.70,240.70 648.20,240.68 648.70,240.65 649.20,240.62 649.70,240.60 650.20,240.57 650.70,240.53 651.20,240.50 651.70,240.47 652.20,240.43 652.70,240.39 653.20,240.35 653.70,240.30 654.20,240.26 654.70,240.21 655.20,240.16 655.70,240.11 656.20,240.05 656.70,239.99 657.20,239.93 657.70,239.86 658.20,239.80 658.70,239.72 659.20,239.65 659.70,239.57 660.20,239.49 660.70,239.40 661.20,239.31 661.70,239.22 662.20,239.12 662.70,239.01 663.20,238.90 663.70,238.79 664.20,238.67 664.70,238.54 665.20,238.41 665.70,238.27 666.20,238.13 666.70,237.98 667.20,237.83 667.70,237.67 668.20,237.50 668.70,237.32 669.20,237.14 669.70,236.95 670.20,236.76 670.70,236.56 671.20,236.35 671.70,236.14 672.20,235.92 672.70,235.69 673.20,235.46 673.70,235.23 674.20,234.99 674.70,234.75 675.20,234.51 675.70,234.27 676.20,234.03 676.70,233.79 677.20,233.56 677.70,233.33 678.20,233.11 678.70,232.90 679.20,232.70 679.70,232.51 680.20,232.34 680.70,232.19 681.20,232.06 681.70,231.95 682.20,231.86 682.70,231.80 683.20,231.76 683.70,231.75 684.20,231.76 684.70,231.80 685.20,231.87 685.70,231.96 686.20,232.07 686.70,232.20 687.20,232.36 687.70,232.53 688.20,232.73 688.70,232.93 689.20,233.16 689.70,233.39 690.20,233.63 690.70,233.88 691.20,234.14 691.70,234.41 692.20,234.67 692.70,234.94 693.20,235.21 693.70,235.48 694.20,235.75 694.70,236.01 695.20,236.27 695.70,236.53 696.20,236.78 696.70,237.03 697.20,237.27 697.70,237.51 698.20,237.74 698.70,237.96 699.20,238.18 699.70,238.40 700.20,238.60 700.70,238.80 701.20,238.99 701.70,239.18 702.20,239.36 702.70,239.54 703.20,239.71 703.70,239.87 704.20,240.03 704.70,240.19 705.20,240.34 705.70,240.48 706.20,240.62 706.70,240.75 707.20,240.88 707.70,241.01 708.20,241.13 708.70,241.25 709.20,241.37 709.70,241.48 710.20,241.58 710.70,241.69 711.20,241.79 711.70,241.89 712.20,241.98 712.70,242.08 713.20,242.17 713.70,242.25 714.20,242.34 714.70,242.42 715.20,242.50 715.70,242.58 716.20,242.65 716.70,242.73 717.20,242.80 717.70,242.87 718.20,242.94 718.70,243.00 719.20,243.07 719.70,243.13 720.20,243.20 720.70,243.26 721.20,243.32 721.70,243.37 722.20,243.43 722.70,243.49 723.20,243.54 723.70,243.59 724.20,243.65 724.70,243.70 725.20,243.75 725.70,243.80 726.20,243.84 726.70,243.89 727.20,243.94 727.70,243.98 728.20,244.03 728.70,244.07 729.20,244.12 729.70,244.16 730.20,244.20 730.70,244.24 731.20,244.28 731.70,244.32 732.20,244.36 732.70,244.40 733.20,244.44 733.70,244.48 734.20,244.51 734.70,244.55 735.20,244.59 735.70,244.62 736.20,244.66 736.70,244.69 737.20,244.73 737.70,244.76 738.20,244.79 738.70,244.83 739.20,244.86 739.70,244.89 740.20,244.92 740.70,244.96 741.20,244.99 741.70,245.02 742.20,245.05 742.70,245.08 743.20,245.11 743.70,245.14 744.20,245.17 744.70,245.20 745.20,245.23 745.70,245.26 746.20,245.29 746.70,245.32 747.20,245.34 747.70,245.37 748.20,245.40 748.70,245.43 749.20,245.45 749.70,245.48 750.20,245.51 750.70,245.54 751.20,245.56 751.70,245.59 752.20,245.61 752.70,245.64 753.20,245.67 753.70,245.69 754.20,245.72 754.70,245.74 755.20,245.77 755.70,245.79 756.20,245.82 756.70,245.84 757.20,245.87 757.70,245.89 758.20,245.92 758.70,245.94 759.20,245.97 759.70,245.99 760.20,246.01 760.70,246.04 761.20,246.06 761.70,246.09 762.20,246.11 762.70,246.13 763.20,246.16 763.70,246.18 764.20,246.20 764.70,246.23 765.20,246.25 765.70,246.27 766.20,246.29 766.70,246.32 767.20,246.34 767.70,246.36 768.20,246.39 768.70,246.41 769.20,246.43 769.70,246.45 770.20,246.47 770.70,246.50 771.20,246.52 771.70,246.54 772.20,246.56 772.70,246.58 773.20,246.61 773.70,246.63 774.20,246.65 774.70,246.67 775.20,246.69 775.70,246.71 776.20,246.74 776.70,246.76 777.20,246.78 777.70,246.80 778.20,246.82 778.70,246.84 779.20,246.86 779.70,246.89 780.20,246.91 780.70,246.93 781.20,246.95 781.70,246.97 782.20,246.99 782.70,247.01 783.20,247.03 783.70,247.05 784.20,247.07 784.70,247.09 785.20,247.11 785.70,247.13 786.20,247.16 786.70,247.18 787.20,247.20 787.70,247.22 788.20,247.24 788.70,247.26 789.20,247.28 789.70,247.30 790.20,247.32 790.70,247.34 791.20,247.36 791.70,247.38 792.20,247.40 792.70,247.42 793.20,247.44 793.70,247.46 794.20,247.48 794.70,247.50 795.20,247.52 795.70,247.54 796.20,247.56 796.70,247.58 797.20,247.60 797.70,247.62 798.20,247.64 798.70,247.66 799.20,247.68 799.70,247.70 800.20,247.72 800.70,247.74 801.20,247.76 801.70,247.78 802.20,247.80" fill="none" stroke="#0000ff" stroke-width="2.6" stroke-linejoin="round"/>
<polyline points="557.20,239.20 557.70,239.22 558.20,239.24 558.70,239.25 559.20,239.27 559.70,239.29 560.20,239.31 560.70,239.33 561.20,239.34 561.70,239.36 562.20,239.38 562.70,239.40 563.20,239.42 563.70,239.43 564.20,239.45 564.70,239.47 565.20,239.49 565.70,239.51 566.20,239.52 566.70,239.54 567.20,239.56 567.70,239.58 568.20,239.60 568.70,239.61 569.20,239.63 569.70,239.65 570.20,239.67 570.70,239.68 571.20,239.70 571.70,239.72 572.20,239.74 572.70,239.76 573.20,239.77 573.70,239.79 574.20,239.81 574.70,239.83 575.20,239.85 575.70,239.86 576.20,239.88 576.70,239.90 577.20,239.92 577.70,239.94 578.20,239.95 578.70,239.97 579.20,239.99 579.70,240.01 580.20,240.03 580.70,240.04 581.20,240.06 581.70,240.08 582.20,240.10 582.70,240.12 583.20,240.13 583.70,240.15 584.20,240.17 584.70,240.19 585.20,240.21 585.70,240.22 586.20,240.24 586.70,240.26 587.20,240.28 587.70,240.29 588.20,240.31 588.70,240.33 589.20,240.35 589.70,240.37 590.20,240.38 590.70,240.40 591.20,240.42 591.70,240.44 592.20,240.46 592.70,240.47 593.20,240.49 593.70,240.51 594.20,240.53 594.70,240.54 595.20,240.56 595.70,240.58 596.20,240.60 596.70,240.61 597.20,240.63 597.70,240.65 598.20,240.67 598.70,240.68 599.20,240.70 599.70,240.72 600.20,240.73 600.70,240.75 601.20,240.77 601.70,240.78 602.20,240.80 602.70,240.82 603.20,240.83 603.70,240.85 604.20,240.86 604.70,240.88 605.20,240.90 605.70,240.91 606.20,240.93 606.70,240.94 607.20,240.95 607.70,240.97 608.20,240.98 608.70,240.99 609.20,241.01 609.70,241.02 610.20,241.03 610.70,241.04 611.20,241.05 611.70,241.06 612.20,241.07 612.70,241.08 613.20,241.09 613.70,241.10 614.20,241.10 614.70,241.11 615.20,241.12 615.70,241.12 616.20,241.12 616.70,241.13 617.20,241.13 617.70,241.13 618.20,241.13 618.70,241.12 619.20,241.12 619.70,241.12 620.20,241.11 620.70,241.10 621.20,241.09 621.70,241.08 622.20,241.07 622.70,241.05 623.20,241.04 623.70,241.02 624.20,241.00 624.70,240.98 625.20,240.96 625.70,240.93 626.20,240.90 626.70,240.87 627.20,240.84 627.70,240.81 628.20,240.77 628.70,240.73 629.20,240.69 629.70,240.65 630.20,240.60 630.70,240.55 631.20,240.50 631.70,240.45 632.20,240.39 632.70,240.34 633.20,240.28 633.70,240.21 634.20,240.15 634.70,240.08 635.20,240.01 635.70,239.94 636.20,239.86 636.70,239.79 637.20,239.71 637.70,239.63 638.20,239.55 638.70,239.46 639.20,239.38 639.70,239.29 640.20,239.20 640.70,239.11 641.20,239.02 641.70,238.93 642.20,238.84 642.70,238.74 643.20,238.65 643.70,238.55 644.20,238.46 644.70,238.36 645.20,238.27 645.70,238.18 646.20,238.08 646.70,237.99 647.20,237.90 647.70,237.81 648.20,237.72 648.70,237.64 649.20,237.55 649.70,237.47 650.20,237.39 650.70,237.31 651.20,237.24 651.70,237.17 652.20,237.10 652.70,237.04 653.20,236.98 653.70,236.92 654.20,236.87 654.70,236.82 655.20,236.78 655.70,236.74 656.20,236.70 656.70,236.67 657.20,236.65 657.70,236.63 658.20,236.61 658.70,236.60 659.20,236.60 659.70,236.60 660.20,236.61 660.70,236.62 661.20,236.64 661.70,236.66 662.20,236.68 662.70,236.70 663.20,236.73 663.70,236.76 664.20,236.79 664.70,236.82 665.20,236.85 665.70,236.89 666.20,236.93 666.70,236.97 667.20,237.01 667.70,237.06 668.20,237.11 668.70,237.16 669.20,237.21 669.70,237.26 670.20,237.31 670.70,237.37 671.20,237.43 671.70,237.49 672.20,237.55 672.70,237.61 673.20,237.68 673.70,237.74 674.20,237.81 674.70,237.88 675.20,237.95 675.70,238.02 676.20,238.10 676.70,238.17 677.20,238.25 677.70,238.32 678.20,238.40 678.70,238.48 679.20,238.56 679.70,238.64 680.20,238.73 680.70,238.81 681.20,238.89 681.70,238.98 682.20,239.06 682.70,239.15 683.20,239.23 683.70,239.32 684.20,239.41 684.70,239.49 685.20,239.58 685.70,239.67 686.20,239.76 686.70,239.85 687.20,239.94 687.70,240.02 688.20,240.11 688.70,240.20 689.20,240.29 689.70,240.38 690.20,240.47 690.70,240.55 691.20,240.64 691.70,240.73 692.20,240.82 692.70,240.90 693.20,240.99 693.70,241.08 694.20,241.16 694.70,241.25 695.20,241.33 695.70,241.42 696.20,241.50 696.70,241.58 697.20,241.66 697.70,241.75 698.20,241.83 698.70,241.91 699.20,241.98 699.70,242.06 700.20,242.14 700.70,242.22 701.20,242.29 701.70,242.37 702.20,242.44 702.70,242.51 703.20,242.59 703.70,242.66 704.20,242.73 704.70,242.80 705.20,242.87 705.70,242.93 706.20,243.00 706.70,243.07 707.20,243.13 707.70,243.19 708.20,243.26 708.70,243.32 709.20,243.38 709.70,243.44 710.20,243.50 710.70,243.56 711.20,243.61 711.70,243.67 712.20,243.72 712.70,243.78 713.20,243.83 713.70,243.88 714.20,243.93 714.70,243.99 715.20,244.04 715.70,244.08 716.20,244.13 716.70,244.18 717.20,244.22 717.70,244.27 718.20,244.31 718.70,244.36 719.20,244.40 719.70,244.44 720.20,244.49 720.70,244.53 721.20,244.57 721.70,244.61 722.20,244.64 722.70,244.68 723.20,244.72 723.70,244.76 724.20,244.79 724.70,244.83 725.20,244.86 725.70,244.90 726.20,244.93 726.70,244.96 727.20,244.99 727.70,245.03 728.20,245.06 728.70,245.09 729.20,245.12 729.70,245.15 730.20,245.18 730.70,245.21 731.20,245.24 731.70,245.26 732.20,245.29 732.70,245.32 733.20,245.35 733.70,245.37 734.20,245.40 734.70,245.42 735.20,245.45 735.70,245.47 736.20,245.50 736.70,245.52 737.20,245.55 737.70,245.57 738.20,245.60 738.70,245.62 739.20,245.64 739.70,245.67 740.20,245.69 740.70,245.71 741.20,245.73 741.70,245.75 742.20,245.78 742.70,245.80 743.20,245.82 743.70,245.84 744.20,245.86 744.70,245.88 745.20,245.90 745.70,245.92 746.20,245.95 746.70,245.97 747.20,245.99 747.70,246.01 748.20,246.03 748.70,246.05 749.20,246.07 749.70,246.09 750.20,246.11 750.70,246.12 751.20,246.14 751.70,246.16 752.20,246.18 752.70,246.20 753.20,246.22 753.70,246.24 754.20,246.26 754.70,246.28 755.20,246.30 755.70,246.32 756.20,246.34 756.70,246.35 757.20,246.37 757.70,246.39 758.20,246.41 758.70,246.43 759.20,246.45 759.70,246.47 760.20,246.48 760.70,246.50 761.20,246.52 761.70,246.54 762.20,246.56 762.70,246.58 763.20,246.59 763.70,246.61 764.20,246.63 764.70,246.65 765.20,246.67 765.70,246.69 766.20,246.70 766.70,246.72 767.20,246.74 767.70,246.76 768.20,246.78 768.70,246.79 769.20,246.81 769.70,246.83 770.20,246.85 770.70,246.87 771.20,246.89 771.70,246.90 772.20,246.92 772.70,246.94 773.20,246.96 773.70,246.98 774.20,246.99 774.70,247.01 775.20,247.03 775.70,247.05 776.20,247.07 776.70,247.08 777.20,247.10 777.70,247.12 778.20,247.14 778.70,247.16 779.20,247.17 779.70,247.19 780.20,247.21 780.70,247.23 781.20,247.25 781.70,247.26 782.20,247.28 782.70,247.30 783.20,247.32 783.70,247.34 784.20,247.35 784.70,247.37 785.20,247.39 785.70,247.41 786.20,247.43 786.70,247.44 787.20,247.46 787.70,247.48 788.20,247.50 788.70,247.52 789.20,247.53 789.70,247.55 790.20,247.57 790.70,247.59 791.20,247.60 791.70,247.62 792.20,247.64 792.70,247.66 793.20,247.68 793.70,247.69 794.20,247.71 794.70,247.73 795.20,247.75 795.70,247.77 796.20,247.78 796.70,247.80 797.20,247.82 797.70,247.84 798.20,247.86 798.70,247.87 799.20,247.89 799.70,247.91 800.20,247.93 800.70,247.95 801.20,247.96 801.70,247.98 802.20,248.00" fill="none" stroke="#800080" stroke-width="2.6" stroke-linejoin="round"/>
<polyline points="557.20,239.01 557.70,239.03 558.20,239.05 558.70,239.06 559.20,239.08 559.70,239.09 560.20,239.11 560.70,239.12 561.20,239.14 561.70,239.16 562.20,239.17 562.70,239.19 563.20,239.20 563.70,239.22 564.20,239.23 564.70,239.25 565.20,239.26 565.70,239.28 566.20,239.30 566.70,239.31 567.20,239.33 567.70,239.34 568.20,239.36 568.70,239.37 569.20,239.39 569.70,239.40 570.20,239.42 570.70,239.43 571.20,239.44 571.70,239.46 572.20,239.47 572.70,239.49 573.20,239.50 573.70,239.52 574.20,239.53 574.70,239.54 575.20,239.56 575.70,239.57 576.20,239.59 576.70,239.60 577.20,239.61 577.70,239.63 578.20,239.64 578.70,239.65 579.20,239.67 579.70,239.68 580.20,239.69 580.70,239.71 581.20,239.72 581.70,239.73 582.20,239.74 582.70,239.75 583.20,239.77 583.70,239.78 584.20,239.79 584.70,239.80 585.20,239.81 585.70,239.82 586.20,239.83 586.70,239.84 587.20,239.85 587.70,239.86 588.20,239.87 588.70,239.88 589.20,239.89 589.70,239.90 590.20,239.91 590.70,239.91 591.20,239.92 591.70,239.93 592.20,239.93 592.70,239.94 593.20,239.94 593.70,239.95 594.20,239.95 594.70,239.96 595.20,239.96 595.70,239.96 596.20,239.96 596.70,239.97 597.20,239.97 597.70,239.97 598.20,239.97 598.70,239.96 599.20,239.96 599.70,239.96 600.20,239.95 600.70,239.95 601.20,239.94 601.70,239.94 602.20,239.93 602.70,239.92 603.20,239.91 603.70,239.90 604.20,239.89 604.70,239.88 605.20,239.86 605.70,239.85 606.20,239.83 606.70,239.81 607.20,239.79 607.70,239.77 608.20,239.75 608.70,239.73 609.20,239.70 609.70,239.68 610.20,239.65 610.70,239.62 611.20,239.59 611.70,239.56 612.20,239.52 612.70,239.49 613.20,239.45 613.70,239.41 614.20,239.37 614.70,239.33 615.20,239.29 615.70,239.24 616.20,239.20 616.70,239.15 617.20,239.10 617.70,239.05 618.20,239.00 618.70,238.94 619.20,238.89 619.70,238.83 620.20,238.77 620.70,238.71 621.20,238.65 621.70,238.58 622.20,238.52 622.70,238.45 623.20,238.39 623.70,238.32 624.20,238.25 624.70,238.18 625.20,238.11 625.70,238.03 626.20,237.96 626.70,237.88 627.20,237.81 627.70,237.73 628.20,237.66 628.70,237.58 629.20,237.50 629.70,237.43 630.20,237.35 630.70,237.28 631.20,237.20 631.70,237.12 632.20,237.05 632.70,236.98 633.20,236.90 633.70,236.83 634.20,236.76 634.70,236.69 635.20,236.63 635.70,236.56 636.20,236.50 636.70,236.44 637.20,236.39 637.70,236.34 638.20,236.29 638.70,236.24 639.20,236.20 639.70,236.16 640.20,236.13 640.70,236.10 641.20,236.07 641.70,236.05 642.20,236.04 642.70,236.03 643.20,236.02 643.70,236.03 644.20,236.03 644.70,236.04 645.20,236.06 645.70,236.08 646.20,236.11 646.70,236.15 647.20,236.19 647.70,236.23 648.20,236.28 648.70,236.33 649.20,236.39 649.70,236.46 650.20,236.53 650.70,236.60 651.20,236.68 651.70,236.76 652.20,236.84 652.70,236.93 653.20,237.02 653.70,237.12 654.20,237.21 654.70,237.31 655.20,237.41 655.70,237.52 656.20,237.62 656.70,237.73 657.20,237.84 657.70,237.95 658.20,238.06 658.70,238.17 659.20,238.28 659.70,238.39 660.20,238.50 660.70,238.62 661.20,238.73 661.70,238.84 662.20,238.95 662.70,239.07 663.20,239.18 663.70,239.29 664.20,239.40 664.70,239.51 665.20,239.61 665.70,239.72 666.20,239.83 666.70,239.93 667.20,240.04 667.70,240.14 668.20,240.24 668.70,240.34 669.20,240.44 669.70,240.53 670.20,240.63 670.70,240.72 671.20,240.81 671.70,240.90 672.20,240.99 672.70,241.08 673.20,241.17 673.70,241.25 674.20,241.33 674.70,241.41 675.20,241.49 675.70,241.57 676.20,241.65 676.70,241.72 677.20,241.79 677.70,241.87 678.20,241.94 678.70,242.00 679.20,242.07 679.70,242.14 680.20,242.20 680.70,242.26 681.20,242.32 681.70,242.38 682.20,242.44 682.70,242.50 683.20,242.55 683.70,242.61 684.20,242.66 684.70,242.71 685.20,242.76 685.70,242.81 686.20,242.86 686.70,242.90 687.20,242.95 687.70,243.00 688.20,243.04 688.70,243.08 689.20,243.12 689.70,243.16 690.20,243.20 690.70,243.24 691.20,243.28 691.70,243.32 692.20,243.36 692.70,243.39 693.20,243.43 693.70,243.46 694.20,243.50 694.70,243.53 695.20,243.56 695.70,243.60 696.20,243.63 696.70,243.66 697.20,243.69 697.70,243.72 698.20,243.75 698.70,243.78 699.20,243.81 699.70,243.84 700.20,243.86 700.70,243.89 701.20,243.92 701.70,243.95 702.20,243.97 702.70,244.00 703.20,244.03 703.70,244.05 704.20,244.08 704.70,244.10 705.20,244.13 705.70,244.15 706.20,244.18 706.70,244.20 707.20,244.23 707.70,244.25 708.20,244.27 708.70,244.30 709.20,244.32 709.70,244.34 710.20,244.37 710.70,244.39 711.20,244.41 711.70,244.43 712.20,244.46 712.70,244.48 713.20,244.50 713.70,244.52 714.20,244.55 714.70,244.57 715.20,244.59 715.70,244.61 716.20,244.63 716.70,244.66 717.20,244.68 717.70,244.70 718.20,244.72 718.70,244.74 719.20,244.76 719.70,244.78 720.20,244.81 720.70,244.83 721.20,244.85 721.70,244.87 722.20,244.89 722.70,244.91 723.20,244.93 723.70,244.95 724.20,244.97 724.70,244.99 725.20,245.01 725.70,245.03 726.20,245.05 726.70,245.07 727.20,245.10 727.70,245.12 728.20,245.14 728.70,245.16 729.20,245.18 729.70,245.20 730.20,245.22 730.70,245.24 731.20,245.26 731.70,245.28 732.20,245.30 732.70,245.32 733.20,245.34 733.70,245.36 734.20,245.38 734.70,245.40 735.20,245.42 735.70,245.44 736.20,245.46 736.70,245.48 737.20,245.50 737.70,245.52 738.20,245.53 738.70,245.55 739.20,245.57 739.70,245.59 740.20,245.61 740.70,245.63 741.20,245.65 741.70,245.67 742.20,245.69 742.70,245.71 743.20,245.73 743.70,245.75 744.20,245.77 744.70,245.79 745.20,245.81 745.70,245.83 746.20,245.85 746.70,245.87 747.20,245.88 747.70,245.90 748.20,245.92 748.70,245.94 749.20,245.96 749.70,245.98 750.20,246.00 750.70,246.02 751.20,246.04 751.70,246.06 752.20,246.08 752.70,246.10 753.20,246.11 753.70,246.13 754.20,246.15 754.70,246.17 755.20,246.19 755.70,246.21 756.20,246.23 756.70,246.25 757.20,246.27 757.70,246.29 758.20,246.30 758.70,246.32 759.20,246.34 759.70,246.36 760.20,246.38 760.70,246.40 761.20,246.42 761.70,246.44 762.20,246.46 762.70,246.47 763.20,246.49 763.70,246.51 764.20,246.53 764.70,246.55 765.20,246.57 765.70,246.59 766.20,246.61 766.70,246.63 767.20,246.64 767.70,246.66 768.20,246.68 768.70,246.70 769.20,246.72 769.70,246.74 770.20,246.76 770.70,246.77 771.20,246.79 771.70,246.81 772.20,246.83 772.70,246.85 773.20,246.87 773.70,246.89 774.20,246.91 774.70,246.92 775.20,246.94 775.70,246.96 776.20,246.98 776.70,247.00 777.20,247.02 777.70,247.04 778.20,247.05 778.70,247.07 779.20,247.09 779.70,247.11 780.20,247.13 780.70,247.15 781.20,247.17 781.70,247.18 782.20,247.20 782.70,247.22 783.20,247.24 783.70,247.26 784.20,247.28 784.70,247.30 785.20,247.31 785.70,247.33 786.20,247.35 786.70,247.37 787.20,247.39 787.70,247.41 788.20,247.42 788.70,247.44 789.20,247.46 789.70,247.48 790.20,247.50 790.70,247.52 791.20,247.54 791.70,247.55 792.20,247.57 792.70,247.59 793.20,247.61 793.70,247.63 794.20,247.65 794.70,247.66 795.20,247.68 795.70,247.70 796.20,247.72 796.70,247.74 797.20,247.76 797.70,247.77 798.20,247.79 798.70,247.81 799.20,247.83 799.70,247.85 800.20,247.87 800.70,247.88 801.20,247.90 801.70,247.92 802.20,247.94" fill="none" stroke="#008000" stroke-width="2.6" stroke-linejoin="round"/>
<rect x="557.2" y="37.9" width="245.0" height="227.4" fill="none" stroke="#000" stroke-width="1.3"/>
<line x1="557.30" y1="265.3" x2="557.30" y2="270.8" stroke="#000" stroke-width="1.3"/>
<text x="556.70" y="282.6" font-size="13.5" text-anchor="middle">294</text>
<line x1="592.28" y1="265.3" x2="592.28" y2="270.8" stroke="#000" stroke-width="1.3"/>
<text x="591.68" y="282.6" font-size="13.5" text-anchor="middle">292</text>
<line x1="627.26" y1="265.3" x2="627.26" y2="270.8" stroke="#000" stroke-width="1.3"/>
<text x="626.66" y="282.6" font-size="13.5" text-anchor="middle">290</text>
<line x1="662.24" y1="265.3" x2="662.24" y2="270.8" stroke="#000" stroke-width="1.3"/>
<text x="661.64" y="282.6" font-size="13.5" text-anchor="middle">288</text>
<line x1="697.22" y1="265.3" x2="697.22" y2="270.8" stroke="#000" stroke-width="1.3"/>
<text x="696.62" y="282.6" font-size="13.5" text-anchor="middle">286</text>
<line x1="732.20" y1="265.3" x2="732.20" y2="270.8" stroke="#000" stroke-width="1.3"/>
<text x="731.60" y="282.6" font-size="13.5" text-anchor="middle">284</text>
<line x1="767.18" y1="265.3" x2="767.18" y2="270.8" stroke="#000" stroke-width="1.3"/>
<text x="766.58" y="282.6" font-size="13.5" text-anchor="middle">282</text>
<line x1="802.16" y1="265.3" x2="802.16" y2="270.8" stroke="#000" stroke-width="1.3"/>
<text x="801.56" y="282.6" font-size="13.5" text-anchor="middle">280</text>
<text x="678.7" y="302" font-size="15" text-anchor="middle">Binding energy (eV)</text>
<text x="566.2" y="22.7" font-size="23" text-anchor="middle">(c)</text>
<rect x="557.2" y="37.9" width="72.29999999999995" height="95.4" fill="#fff"/>
<line x1="557.2" y1="37.9" x2="629.5" y2="37.9" stroke="#000" stroke-width="1.1"/>
<line x1="629.5" y1="37.35" x2="629.5" y2="133.85000000000002" stroke="#6a6a6a" stroke-width="1.1"/>
<line x1="557.2" y1="133.3" x2="629.5" y2="133.3" stroke="#a0a0a0" stroke-width="1.1"/>
<line x1="557.2" y1="37.25" x2="557.2" y2="134.3" stroke="#000" stroke-width="1.3"/>
<line x1="556.5500000000001" y1="37.9" x2="802.85" y2="37.9" stroke="#000" stroke-width="1.3"/>
<line x1="558.7" y1="48.00" x2="585.3" y2="48.00" stroke="#000000" stroke-width="2.8"/>
<text transform="translate(590.50,51.20) scale(1.0,1.07)" font-size="13">sum</text>
<line x1="558.7" y1="63.90" x2="585.3" y2="63.90" stroke="#ff0000" stroke-width="2.8"/>
<text transform="translate(590.50,67.10) scale(1.0,1.07)" font-size="13">sp</text>
<text transform="translate(603.10,62.70) scale(0.75,1.0)" font-size="7.5">2</text>
<text transform="translate(605.80,67.10) scale(1.0,1.07)" font-size="13">C</text>
<line x1="558.7" y1="79.80" x2="585.3" y2="79.80" stroke="#ff0080" stroke-width="2.8"/>
<text transform="translate(590.50,83.00) scale(1.0,1.07)" font-size="13">sp</text>
<text transform="translate(603.10,78.60) scale(0.75,1.0)" font-size="7.5">3</text>
<text transform="translate(605.80,83.00) scale(1.0,1.07)" font-size="13">C</text>
<line x1="558.7" y1="95.70" x2="585.3" y2="95.70" stroke="#0000ff" stroke-width="2.8"/>
<text transform="translate(590.50,98.90) scale(1.0,1.07)" font-size="13">C-O</text>
<line x1="558.7" y1="111.60" x2="585.3" y2="111.60" stroke="#800080" stroke-width="2.8"/>
<text transform="translate(590.50,114.80) scale(1.0,1.07)" font-size="13">-C=O</text>
<line x1="558.7" y1="127.50" x2="585.3" y2="127.50" stroke="#008000" stroke-width="2.8"/>
<text transform="translate(590.50,130.70) scale(1.0,1.07)" font-size="13">-COO-</text>
</svg></body></html>
